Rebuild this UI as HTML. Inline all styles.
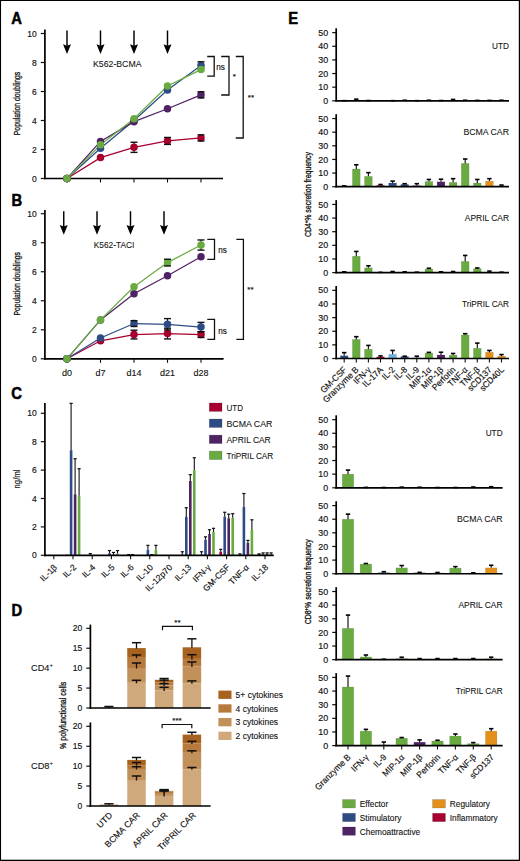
<!DOCTYPE html>
<html><head><meta charset="utf-8"><style>
html,body{margin:0;padding:0;background:#fff;width:520px;height:861px;overflow:hidden}
svg{display:block}
text{font-family:"Liberation Sans",sans-serif}
</style></head><body>
<svg width="520" height="861" viewBox="0 0 520 861" font-family="Liberation Sans">
<rect x="0" y="0" width="520" height="861" fill="#fff"/>
<rect x="0" y="0" width="1.05" height="861" fill="#000"/><rect x="0" y="0" width="520" height="1.0" fill="#000"/><rect x="518.8" y="0" width="1.2" height="861" fill="#000"/><rect x="0" y="859.7" width="520" height="1.3" fill="#000"/>
<text transform="translate(11.20,24.30) scale(0.95,1)" font-size="15.6" font-weight="bold" fill="#000" stroke="#000" stroke-width="0.5">A</text>
<text transform="translate(11.50,205.60) scale(0.95,1)" font-size="15.6" font-weight="bold" fill="#000" stroke="#000" stroke-width="0.5">B</text>
<text transform="translate(11.20,398.80) scale(0.95,1)" font-size="15.6" font-weight="bold" fill="#000" stroke="#000" stroke-width="0.5">C</text>
<text transform="translate(11.50,615.60) scale(0.95,1)" font-size="15.6" font-weight="bold" fill="#000" stroke="#000" stroke-width="0.5">D</text>
<text transform="translate(288.30,24.30) scale(0.95,1)" font-size="15.6" font-weight="bold" fill="#000" stroke="#000" stroke-width="0.5">E</text>
<line x1="44.90" y1="29.50" x2="44.90" y2="179.35" stroke="#000" stroke-width="1.7" />
<line x1="44.05" y1="178.50" x2="223.00" y2="178.50" stroke="#000" stroke-width="1.7" />
<line x1="40.80" y1="178.50" x2="44.90" y2="178.50" stroke="#111" stroke-width="1.2" />
<text x="36.80" y="181.50" font-size="8.5" text-anchor="end" font-weight="normal" fill="#111" stroke="#111" stroke-width="0.16" >0</text>
<line x1="40.80" y1="149.50" x2="44.90" y2="149.50" stroke="#111" stroke-width="1.2" />
<text x="36.80" y="152.50" font-size="8.5" text-anchor="end" font-weight="normal" fill="#111" stroke="#111" stroke-width="0.16" >2</text>
<line x1="40.80" y1="120.50" x2="44.90" y2="120.50" stroke="#111" stroke-width="1.2" />
<text x="36.80" y="123.50" font-size="8.5" text-anchor="end" font-weight="normal" fill="#111" stroke="#111" stroke-width="0.16" >4</text>
<line x1="40.80" y1="91.50" x2="44.90" y2="91.50" stroke="#111" stroke-width="1.2" />
<text x="36.80" y="94.50" font-size="8.5" text-anchor="end" font-weight="normal" fill="#111" stroke="#111" stroke-width="0.16" >6</text>
<line x1="40.80" y1="62.50" x2="44.90" y2="62.50" stroke="#111" stroke-width="1.2" />
<text x="36.80" y="65.50" font-size="8.5" text-anchor="end" font-weight="normal" fill="#111" stroke="#111" stroke-width="0.16" >8</text>
<line x1="40.80" y1="33.50" x2="44.90" y2="33.50" stroke="#111" stroke-width="1.2" />
<text x="36.80" y="36.50" font-size="8.5" text-anchor="end" font-weight="normal" fill="#111" stroke="#111" stroke-width="0.16" >10</text>
<line x1="67.00" y1="178.50" x2="67.00" y2="182.50" stroke="#111" stroke-width="1.1" />
<line x1="100.50" y1="178.50" x2="100.50" y2="182.50" stroke="#111" stroke-width="1.1" />
<line x1="134.00" y1="178.50" x2="134.00" y2="182.50" stroke="#111" stroke-width="1.1" />
<line x1="167.50" y1="178.50" x2="167.50" y2="182.50" stroke="#111" stroke-width="1.1" />
<line x1="201.00" y1="178.50" x2="201.00" y2="182.50" stroke="#111" stroke-width="1.1" />
<text transform="translate(16.60,103.50) rotate(-90) scale(0.69,1)" x="0" y="3.41" font-size="9.9" text-anchor="middle" fill="#111" stroke="#111" stroke-width="0.3">Population doublings</text>
<line x1="67.00" y1="30.50" x2="67.00" y2="47.00" stroke="#000" stroke-width="1.45" />
<polygon points="63.00,44.20 67.00,45.70 71.00,44.20 67.00,53.90" fill="#000"/>
<line x1="100.50" y1="30.50" x2="100.50" y2="47.00" stroke="#000" stroke-width="1.45" />
<polygon points="96.50,44.20 100.50,45.70 104.50,44.20 100.50,53.90" fill="#000"/>
<line x1="134.00" y1="30.50" x2="134.00" y2="47.00" stroke="#000" stroke-width="1.45" />
<polygon points="130.00,44.20 134.00,45.70 138.00,44.20 134.00,53.90" fill="#000"/>
<line x1="167.50" y1="30.50" x2="167.50" y2="47.00" stroke="#000" stroke-width="1.45" />
<polygon points="163.50,44.20 167.50,45.70 171.50,44.20 167.50,53.90" fill="#000"/>
<text x="93.00" y="67.20" font-size="8.85" text-anchor="start" font-weight="normal" fill="#111" stroke="#111" stroke-width="0.08" textLength="48.5" lengthAdjust="spacingAndGlyphs">K562-BCMA</text>
<polyline points="67.00,178.50 100.50,157.62 134.00,147.32 167.50,140.94 201.00,137.90" fill="none" stroke="#a8002e" stroke-width="1.25"/>
<polyline points="67.00,178.50 100.50,148.34 134.00,120.50 167.50,90.05 201.00,65.40" fill="none" stroke="#2d4b85" stroke-width="1.25"/>
<polyline points="67.00,178.50 100.50,141.38 134.00,121.66 167.50,108.76 201.00,94.84" fill="none" stroke="#4f2264" stroke-width="1.25"/>
<polyline points="67.00,178.50 100.50,144.86 134.00,118.76 167.50,85.99 201.00,69.61" fill="none" stroke="#6aab41" stroke-width="1.25"/>
<circle cx="67.00" cy="178.50" r="3.75" fill="#a8002e"/>
<circle cx="100.50" cy="157.62" r="3.75" fill="#a8002e"/>
<line x1="134.00" y1="142.25" x2="134.00" y2="152.40" stroke="#111" stroke-width="1.1" />
<circle cx="134.00" cy="147.32" r="3.75" fill="#a8002e"/>
<line x1="130.50" y1="142.25" x2="137.50" y2="142.25" stroke="#111" stroke-width="1.4" />
<line x1="130.50" y1="152.40" x2="137.50" y2="152.40" stroke="#111" stroke-width="1.4" />
<line x1="167.50" y1="137.47" x2="167.50" y2="144.42" stroke="#111" stroke-width="1.1" />
<circle cx="167.50" cy="140.94" r="3.75" fill="#a8002e"/>
<line x1="164.00" y1="137.47" x2="171.00" y2="137.47" stroke="#111" stroke-width="1.4" />
<line x1="164.00" y1="144.42" x2="171.00" y2="144.42" stroke="#111" stroke-width="1.4" />
<line x1="201.00" y1="134.86" x2="201.00" y2="140.94" stroke="#111" stroke-width="1.1" />
<circle cx="201.00" cy="137.90" r="3.75" fill="#a8002e"/>
<line x1="197.50" y1="134.86" x2="204.50" y2="134.86" stroke="#111" stroke-width="1.4" />
<line x1="197.50" y1="140.94" x2="204.50" y2="140.94" stroke="#111" stroke-width="1.4" />
<circle cx="67.00" cy="178.50" r="3.75" fill="#2d4b85"/>
<circle cx="100.50" cy="148.34" r="3.75" fill="#2d4b85"/>
<circle cx="134.00" cy="120.50" r="3.75" fill="#2d4b85"/>
<circle cx="167.50" cy="90.05" r="3.75" fill="#2d4b85"/>
<line x1="201.00" y1="61.78" x2="201.00" y2="69.03" stroke="#111" stroke-width="1.1" />
<circle cx="201.00" cy="65.40" r="3.75" fill="#2d4b85"/>
<line x1="197.50" y1="61.78" x2="204.50" y2="61.78" stroke="#111" stroke-width="1.4" />
<line x1="197.50" y1="69.03" x2="204.50" y2="69.03" stroke="#111" stroke-width="1.4" />
<circle cx="67.00" cy="178.50" r="3.75" fill="#4f2264"/>
<circle cx="100.50" cy="141.38" r="3.75" fill="#4f2264"/>
<circle cx="134.00" cy="121.66" r="3.75" fill="#4f2264"/>
<circle cx="167.50" cy="108.76" r="3.75" fill="#4f2264"/>
<line x1="201.00" y1="91.79" x2="201.00" y2="97.88" stroke="#111" stroke-width="1.1" />
<circle cx="201.00" cy="94.84" r="3.75" fill="#4f2264"/>
<line x1="197.50" y1="91.79" x2="204.50" y2="91.79" stroke="#111" stroke-width="1.4" />
<line x1="197.50" y1="97.88" x2="204.50" y2="97.88" stroke="#111" stroke-width="1.4" />
<circle cx="67.00" cy="178.50" r="3.75" fill="#6aab41"/>
<circle cx="100.50" cy="144.86" r="3.75" fill="#6aab41"/>
<circle cx="134.00" cy="118.76" r="3.75" fill="#6aab41"/>
<circle cx="167.50" cy="85.99" r="3.75" fill="#6aab41"/>
<circle cx="201.00" cy="69.61" r="3.75" fill="#6aab41"/>
<polyline points="207.20,56.50 214.20,56.50 214.20,76.20 207.20,76.20" fill="none" stroke="#111" stroke-width="1.3"/>
<text x="216.30" y="69.80" font-size="8.2" text-anchor="start" font-weight="normal" fill="#111" stroke="#111" stroke-width="0.16" >ns</text>
<polyline points="221.20,56.50 229.00,56.50 229.00,95.00 221.20,95.00" fill="none" stroke="#111" stroke-width="1.3"/>
<text x="232.80" y="78.50" font-size="8.0" text-anchor="start" font-weight="normal" fill="#111" stroke="#111" stroke-width="0.16" >*</text>
<polyline points="235.80,56.50 243.20,56.50 243.20,138.00 235.80,138.00" fill="none" stroke="#111" stroke-width="1.3"/>
<text x="247.80" y="99.50" font-size="8.0" text-anchor="start" font-weight="normal" fill="#111" stroke="#111" stroke-width="0.16" >**</text>
<line x1="44.90" y1="210.00" x2="44.90" y2="359.65" stroke="#000" stroke-width="1.7" />
<line x1="44.05" y1="358.80" x2="223.60" y2="358.80" stroke="#000" stroke-width="1.7" />
<line x1="40.80" y1="358.80" x2="44.90" y2="358.80" stroke="#111" stroke-width="1.2" />
<text x="36.80" y="361.80" font-size="8.5" text-anchor="end" font-weight="normal" fill="#111" stroke="#111" stroke-width="0.16" >0</text>
<line x1="40.80" y1="329.78" x2="44.90" y2="329.78" stroke="#111" stroke-width="1.2" />
<text x="36.80" y="332.78" font-size="8.5" text-anchor="end" font-weight="normal" fill="#111" stroke="#111" stroke-width="0.16" >2</text>
<line x1="40.80" y1="300.76" x2="44.90" y2="300.76" stroke="#111" stroke-width="1.2" />
<text x="36.80" y="303.76" font-size="8.5" text-anchor="end" font-weight="normal" fill="#111" stroke="#111" stroke-width="0.16" >4</text>
<line x1="40.80" y1="271.74" x2="44.90" y2="271.74" stroke="#111" stroke-width="1.2" />
<text x="36.80" y="274.74" font-size="8.5" text-anchor="end" font-weight="normal" fill="#111" stroke="#111" stroke-width="0.16" >6</text>
<line x1="40.80" y1="242.72" x2="44.90" y2="242.72" stroke="#111" stroke-width="1.2" />
<text x="36.80" y="245.72" font-size="8.5" text-anchor="end" font-weight="normal" fill="#111" stroke="#111" stroke-width="0.16" >8</text>
<line x1="40.80" y1="213.70" x2="44.90" y2="213.70" stroke="#111" stroke-width="1.2" />
<text x="36.80" y="216.70" font-size="8.5" text-anchor="end" font-weight="normal" fill="#111" stroke="#111" stroke-width="0.16" >10</text>
<line x1="67.00" y1="358.80" x2="67.00" y2="362.80" stroke="#111" stroke-width="1.1" />
<line x1="100.50" y1="358.80" x2="100.50" y2="362.80" stroke="#111" stroke-width="1.1" />
<line x1="134.00" y1="358.80" x2="134.00" y2="362.80" stroke="#111" stroke-width="1.1" />
<line x1="167.50" y1="358.80" x2="167.50" y2="362.80" stroke="#111" stroke-width="1.1" />
<line x1="201.00" y1="358.80" x2="201.00" y2="362.80" stroke="#111" stroke-width="1.1" />
<text x="67.00" y="375.60" font-size="9.0" text-anchor="middle" font-weight="normal" fill="#111" stroke="#111" stroke-width="0.12" >d0</text>
<text x="100.50" y="375.60" font-size="9.0" text-anchor="middle" font-weight="normal" fill="#111" stroke="#111" stroke-width="0.12" >d7</text>
<text x="134.00" y="375.60" font-size="9.0" text-anchor="middle" font-weight="normal" fill="#111" stroke="#111" stroke-width="0.12" >d14</text>
<text x="167.50" y="375.60" font-size="9.0" text-anchor="middle" font-weight="normal" fill="#111" stroke="#111" stroke-width="0.12" >d21</text>
<text x="201.00" y="375.60" font-size="9.0" text-anchor="middle" font-weight="normal" fill="#111" stroke="#111" stroke-width="0.12" >d28</text>
<text transform="translate(16.60,283.80) rotate(-90) scale(0.69,1)" x="0" y="3.41" font-size="9.9" text-anchor="middle" fill="#111" stroke="#111" stroke-width="0.3">Population doublings</text>
<line x1="63.75" y1="211.20" x2="63.75" y2="227.80" stroke="#000" stroke-width="1.45" />
<polygon points="59.75,225.00 63.75,226.50 67.75,225.00 63.75,234.70" fill="#000"/>
<line x1="97.00" y1="211.20" x2="97.00" y2="227.80" stroke="#000" stroke-width="1.45" />
<polygon points="93.00,225.00 97.00,226.50 101.00,225.00 97.00,234.70" fill="#000"/>
<line x1="130.50" y1="211.20" x2="130.50" y2="227.80" stroke="#000" stroke-width="1.45" />
<polygon points="126.50,225.00 130.50,226.50 134.50,225.00 130.50,234.70" fill="#000"/>
<line x1="164.00" y1="211.20" x2="164.00" y2="227.80" stroke="#000" stroke-width="1.45" />
<polygon points="160.00,225.00 164.00,226.50 168.00,225.00 164.00,234.70" fill="#000"/>
<text x="93.70" y="248.00" font-size="8.85" text-anchor="start" font-weight="normal" fill="#111" stroke="#111" stroke-width="0.08" textLength="40.6" lengthAdjust="spacingAndGlyphs">K562-TACI</text>
<polyline points="67.00,358.80 100.50,340.81 134.00,334.57 167.50,333.55 201.00,334.57" fill="none" stroke="#a8002e" stroke-width="1.25"/>
<polyline points="67.00,358.80 100.50,338.05 134.00,323.54 167.50,324.27 201.00,327.02" fill="none" stroke="#2d4b85" stroke-width="1.25"/>
<polyline points="67.00,358.80 100.50,319.91 134.00,293.80 167.50,275.80 201.00,256.79" fill="none" stroke="#4f2264" stroke-width="1.25"/>
<polyline points="67.00,358.80 100.50,319.91 134.00,286.83 167.50,262.60 201.00,245.04" fill="none" stroke="#6aab41" stroke-width="1.25"/>
<circle cx="67.00" cy="358.80" r="3.75" fill="#a8002e"/>
<circle cx="100.50" cy="340.81" r="3.75" fill="#a8002e"/>
<line x1="134.00" y1="330.22" x2="134.00" y2="338.92" stroke="#111" stroke-width="1.1" />
<circle cx="134.00" cy="334.57" r="3.75" fill="#a8002e"/>
<line x1="130.50" y1="330.22" x2="137.50" y2="330.22" stroke="#111" stroke-width="1.4" />
<line x1="130.50" y1="338.92" x2="137.50" y2="338.92" stroke="#111" stroke-width="1.4" />
<line x1="167.50" y1="328.18" x2="167.50" y2="338.92" stroke="#111" stroke-width="1.1" />
<circle cx="167.50" cy="333.55" r="3.75" fill="#a8002e"/>
<line x1="164.00" y1="328.18" x2="171.00" y2="328.18" stroke="#111" stroke-width="1.4" />
<line x1="164.00" y1="338.92" x2="171.00" y2="338.92" stroke="#111" stroke-width="1.4" />
<line x1="201.00" y1="331.67" x2="201.00" y2="337.47" stroke="#111" stroke-width="1.1" />
<circle cx="201.00" cy="334.57" r="3.75" fill="#a8002e"/>
<line x1="197.50" y1="331.67" x2="204.50" y2="331.67" stroke="#111" stroke-width="1.4" />
<line x1="197.50" y1="337.47" x2="204.50" y2="337.47" stroke="#111" stroke-width="1.4" />
<circle cx="67.00" cy="358.80" r="3.75" fill="#2d4b85"/>
<circle cx="100.50" cy="338.05" r="3.75" fill="#2d4b85"/>
<line x1="134.00" y1="320.64" x2="134.00" y2="326.44" stroke="#111" stroke-width="1.1" />
<circle cx="134.00" cy="323.54" r="3.75" fill="#2d4b85"/>
<line x1="130.50" y1="320.64" x2="137.50" y2="320.64" stroke="#111" stroke-width="1.4" />
<line x1="130.50" y1="326.44" x2="137.50" y2="326.44" stroke="#111" stroke-width="1.4" />
<line x1="167.50" y1="318.61" x2="167.50" y2="329.93" stroke="#111" stroke-width="1.1" />
<circle cx="167.50" cy="324.27" r="3.75" fill="#2d4b85"/>
<line x1="164.00" y1="318.61" x2="171.00" y2="318.61" stroke="#111" stroke-width="1.4" />
<line x1="164.00" y1="329.93" x2="171.00" y2="329.93" stroke="#111" stroke-width="1.4" />
<line x1="201.00" y1="322.38" x2="201.00" y2="331.67" stroke="#111" stroke-width="1.1" />
<circle cx="201.00" cy="327.02" r="3.75" fill="#2d4b85"/>
<line x1="197.50" y1="322.38" x2="204.50" y2="322.38" stroke="#111" stroke-width="1.4" />
<line x1="197.50" y1="331.67" x2="204.50" y2="331.67" stroke="#111" stroke-width="1.4" />
<circle cx="67.00" cy="358.80" r="3.75" fill="#4f2264"/>
<circle cx="100.50" cy="319.91" r="3.75" fill="#4f2264"/>
<circle cx="134.00" cy="293.80" r="3.75" fill="#4f2264"/>
<circle cx="167.50" cy="275.80" r="3.75" fill="#4f2264"/>
<circle cx="201.00" cy="256.79" r="3.75" fill="#4f2264"/>
<circle cx="67.00" cy="358.80" r="3.75" fill="#6aab41"/>
<circle cx="100.50" cy="319.91" r="3.75" fill="#6aab41"/>
<circle cx="134.00" cy="286.83" r="3.75" fill="#6aab41"/>
<line x1="167.50" y1="259.26" x2="167.50" y2="265.94" stroke="#111" stroke-width="1.1" />
<circle cx="167.50" cy="262.60" r="3.75" fill="#6aab41"/>
<line x1="164.00" y1="259.26" x2="171.00" y2="259.26" stroke="#111" stroke-width="1.4" />
<line x1="164.00" y1="265.94" x2="171.00" y2="265.94" stroke="#111" stroke-width="1.4" />
<line x1="201.00" y1="239.96" x2="201.00" y2="250.12" stroke="#111" stroke-width="1.1" />
<circle cx="201.00" cy="245.04" r="3.75" fill="#6aab41"/>
<line x1="197.50" y1="239.96" x2="204.50" y2="239.96" stroke="#111" stroke-width="1.4" />
<line x1="197.50" y1="250.12" x2="204.50" y2="250.12" stroke="#111" stroke-width="1.4" />
<polyline points="207.30,239.40 214.50,239.40 214.50,259.30 207.30,259.30" fill="none" stroke="#111" stroke-width="1.3"/>
<text x="218.30" y="253.30" font-size="8.2" text-anchor="start" font-weight="normal" fill="#111" stroke="#111" stroke-width="0.16" >ns</text>
<polyline points="207.30,319.40 214.50,319.40 214.50,339.30 207.30,339.30" fill="none" stroke="#111" stroke-width="1.3"/>
<text x="218.30" y="333.80" font-size="8.2" text-anchor="start" font-weight="normal" fill="#111" stroke="#111" stroke-width="0.16" >ns</text>
<polyline points="236.40,239.40 243.40,239.40 243.40,339.30 236.40,339.30" fill="none" stroke="#111" stroke-width="1.3"/>
<text x="247.30" y="291.50" font-size="8.0" text-anchor="start" font-weight="normal" fill="#111" stroke="#111" stroke-width="0.16" >**</text>
<line x1="40.80" y1="555.30" x2="44.90" y2="555.30" stroke="#111" stroke-width="1.2" />
<text x="36.80" y="558.30" font-size="8.5" text-anchor="end" font-weight="normal" fill="#111" stroke="#111" stroke-width="0.16" >0</text>
<line x1="40.80" y1="526.90" x2="44.90" y2="526.90" stroke="#111" stroke-width="1.2" />
<text x="36.80" y="529.90" font-size="8.5" text-anchor="end" font-weight="normal" fill="#111" stroke="#111" stroke-width="0.16" >2</text>
<line x1="40.80" y1="498.50" x2="44.90" y2="498.50" stroke="#111" stroke-width="1.2" />
<text x="36.80" y="501.50" font-size="8.5" text-anchor="end" font-weight="normal" fill="#111" stroke="#111" stroke-width="0.16" >4</text>
<line x1="40.80" y1="470.10" x2="44.90" y2="470.10" stroke="#111" stroke-width="1.2" />
<text x="36.80" y="473.10" font-size="8.5" text-anchor="end" font-weight="normal" fill="#111" stroke="#111" stroke-width="0.16" >6</text>
<line x1="40.80" y1="441.70" x2="44.90" y2="441.70" stroke="#111" stroke-width="1.2" />
<text x="36.80" y="444.70" font-size="8.5" text-anchor="end" font-weight="normal" fill="#111" stroke="#111" stroke-width="0.16" >8</text>
<line x1="40.80" y1="413.30" x2="44.90" y2="413.30" stroke="#111" stroke-width="1.2" />
<text x="36.80" y="416.30" font-size="8.5" text-anchor="end" font-weight="normal" fill="#111" stroke="#111" stroke-width="0.16" >10</text>
<text transform="translate(17.10,479.00) rotate(-90) scale(0.92,1)" x="0" y="2.89" font-size="8.4" text-anchor="middle" fill="#111" stroke="#111" stroke-width="0.16">ng/ml</text>
<line x1="53.80" y1="555.30" x2="53.80" y2="559.30" stroke="#111" stroke-width="1.1" />
<text transform="translate(57.60,567.90) rotate(-45) scale(1.0,1)" x="0" y="0" font-size="8.6" text-anchor="end" fill="#111" stroke="#111" stroke-width="0.16">IL-1β</text>
<rect x="46.60" y="555.02" width="2.60" height="0.28" fill="#a8002e"/>
<rect x="50.60" y="555.02" width="2.60" height="0.28" fill="#2d4b85"/>
<line x1="73.00" y1="555.30" x2="73.00" y2="559.30" stroke="#111" stroke-width="1.1" />
<text transform="translate(76.80,567.90) rotate(-45) scale(1.0,1)" x="0" y="0" font-size="8.6" text-anchor="end" fill="#111" stroke="#111" stroke-width="0.16">IL-2</text>
<rect x="65.80" y="554.59" width="2.60" height="0.71" fill="#a8002e"/>
<rect x="69.80" y="450.22" width="2.60" height="105.08" fill="#2d4b85"/>
<line x1="71.10" y1="403.36" x2="71.10" y2="450.22" stroke="#111" stroke-width="1.1" />
<line x1="69.50" y1="403.36" x2="72.70" y2="403.36" stroke="#111" stroke-width="1.2" />
<rect x="73.80" y="494.24" width="2.60" height="61.06" fill="#4f2264"/>
<line x1="75.10" y1="458.74" x2="75.10" y2="494.24" stroke="#111" stroke-width="1.1" />
<line x1="73.50" y1="458.74" x2="76.70" y2="458.74" stroke="#111" stroke-width="1.2" />
<rect x="77.80" y="495.66" width="2.60" height="59.64" fill="#6aab41"/>
<line x1="79.10" y1="468.68" x2="79.10" y2="495.66" stroke="#111" stroke-width="1.1" />
<line x1="77.50" y1="468.68" x2="80.70" y2="468.68" stroke="#111" stroke-width="1.2" />
<line x1="92.20" y1="555.30" x2="92.20" y2="559.30" stroke="#111" stroke-width="1.1" />
<text transform="translate(96.00,567.90) rotate(-45) scale(1.0,1)" x="0" y="0" font-size="8.6" text-anchor="end" fill="#111" stroke="#111" stroke-width="0.16">IL-4</text>
<rect x="89.00" y="554.59" width="2.60" height="0.71" fill="#2d4b85"/>
<line x1="90.30" y1="553.60" x2="90.30" y2="554.59" stroke="#111" stroke-width="1.1" />
<line x1="88.70" y1="553.60" x2="91.90" y2="553.60" stroke="#111" stroke-width="1.2" />
<rect x="93.00" y="555.02" width="2.60" height="0.28" fill="#4f2264"/>
<line x1="111.40" y1="555.30" x2="111.40" y2="559.30" stroke="#111" stroke-width="1.1" />
<text transform="translate(115.20,567.90) rotate(-45) scale(1.0,1)" x="0" y="0" font-size="8.6" text-anchor="end" fill="#111" stroke="#111" stroke-width="0.16">IL-5</text>
<rect x="108.20" y="553.17" width="2.60" height="2.13" fill="#2d4b85"/>
<line x1="109.50" y1="550.61" x2="109.50" y2="553.17" stroke="#111" stroke-width="1.1" />
<line x1="107.90" y1="550.61" x2="111.10" y2="550.61" stroke="#111" stroke-width="1.2" />
<rect x="112.20" y="554.59" width="2.60" height="0.71" fill="#4f2264"/>
<line x1="113.50" y1="552.46" x2="113.50" y2="554.59" stroke="#111" stroke-width="1.1" />
<line x1="111.90" y1="552.46" x2="115.10" y2="552.46" stroke="#111" stroke-width="1.2" />
<rect x="116.20" y="553.60" width="2.60" height="1.70" fill="#6aab41"/>
<line x1="117.50" y1="550.61" x2="117.50" y2="553.60" stroke="#111" stroke-width="1.1" />
<line x1="115.90" y1="550.61" x2="119.10" y2="550.61" stroke="#111" stroke-width="1.2" />
<line x1="130.60" y1="555.30" x2="130.60" y2="559.30" stroke="#111" stroke-width="1.1" />
<text transform="translate(134.40,567.90) rotate(-45) scale(1.0,1)" x="0" y="0" font-size="8.6" text-anchor="end" fill="#111" stroke="#111" stroke-width="0.16">IL-6</text>
<rect x="123.40" y="555.02" width="2.60" height="0.28" fill="#a8002e"/>
<rect x="127.40" y="555.02" width="2.60" height="0.28" fill="#2d4b85"/>
<line x1="128.70" y1="554.59" x2="128.70" y2="555.02" stroke="#111" stroke-width="1.1" />
<line x1="127.10" y1="554.59" x2="130.30" y2="554.59" stroke="#111" stroke-width="1.2" />
<rect x="131.40" y="555.02" width="2.60" height="0.28" fill="#4f2264"/>
<line x1="132.70" y1="554.59" x2="132.70" y2="555.02" stroke="#111" stroke-width="1.1" />
<line x1="131.10" y1="554.59" x2="134.30" y2="554.59" stroke="#111" stroke-width="1.2" />
<rect x="135.40" y="555.02" width="2.60" height="0.28" fill="#6aab41"/>
<line x1="149.80" y1="555.30" x2="149.80" y2="559.30" stroke="#111" stroke-width="1.1" />
<text transform="translate(153.60,567.90) rotate(-45) scale(1.0,1)" x="0" y="0" font-size="8.6" text-anchor="end" fill="#111" stroke="#111" stroke-width="0.16">IL-10</text>
<rect x="146.60" y="549.62" width="2.60" height="5.68" fill="#2d4b85"/>
<line x1="147.90" y1="545.36" x2="147.90" y2="549.62" stroke="#111" stroke-width="1.1" />
<line x1="146.30" y1="545.36" x2="149.50" y2="545.36" stroke="#111" stroke-width="1.2" />
<rect x="150.60" y="554.59" width="2.60" height="0.71" fill="#4f2264"/>
<line x1="151.90" y1="554.59" x2="151.90" y2="554.59" stroke="#111" stroke-width="1.1" />
<line x1="150.30" y1="554.59" x2="153.50" y2="554.59" stroke="#111" stroke-width="1.2" />
<rect x="154.60" y="549.62" width="2.60" height="5.68" fill="#6aab41"/>
<line x1="155.90" y1="545.36" x2="155.90" y2="549.62" stroke="#111" stroke-width="1.1" />
<line x1="154.30" y1="545.36" x2="157.50" y2="545.36" stroke="#111" stroke-width="1.2" />
<line x1="169.00" y1="555.30" x2="169.00" y2="559.30" stroke="#111" stroke-width="1.1" />
<text transform="translate(172.80,567.90) rotate(-45) scale(1.0,1)" x="0" y="0" font-size="8.6" text-anchor="end" fill="#111" stroke="#111" stroke-width="0.16">IL-12p70</text>
<line x1="188.20" y1="555.30" x2="188.20" y2="559.30" stroke="#111" stroke-width="1.1" />
<text transform="translate(192.00,567.90) rotate(-45) scale(1.0,1)" x="0" y="0" font-size="8.6" text-anchor="end" fill="#111" stroke="#111" stroke-width="0.16">IL-13</text>
<rect x="181.00" y="554.59" width="2.60" height="0.71" fill="#a8002e"/>
<line x1="182.30" y1="551.75" x2="182.30" y2="554.59" stroke="#111" stroke-width="1.1" />
<line x1="180.70" y1="551.75" x2="183.90" y2="551.75" stroke="#111" stroke-width="1.2" />
<rect x="185.00" y="516.96" width="2.60" height="38.34" fill="#2d4b85"/>
<line x1="186.30" y1="507.73" x2="186.30" y2="516.96" stroke="#111" stroke-width="1.1" />
<line x1="184.70" y1="507.73" x2="187.90" y2="507.73" stroke="#111" stroke-width="1.2" />
<rect x="189.00" y="481.03" width="2.60" height="74.27" fill="#4f2264"/>
<line x1="190.30" y1="474.64" x2="190.30" y2="481.03" stroke="#111" stroke-width="1.1" />
<line x1="188.70" y1="474.64" x2="191.90" y2="474.64" stroke="#111" stroke-width="1.2" />
<rect x="193.00" y="470.10" width="2.60" height="85.20" fill="#6aab41"/>
<line x1="194.30" y1="457.75" x2="194.30" y2="470.10" stroke="#111" stroke-width="1.1" />
<line x1="192.70" y1="457.75" x2="195.90" y2="457.75" stroke="#111" stroke-width="1.2" />
<line x1="207.40" y1="555.30" x2="207.40" y2="559.30" stroke="#111" stroke-width="1.1" />
<text transform="translate(211.20,567.90) rotate(-45) scale(1.0,1)" x="0" y="0" font-size="8.6" text-anchor="end" fill="#111" stroke="#111" stroke-width="0.16">IFN-γ</text>
<rect x="200.20" y="554.59" width="2.60" height="0.71" fill="#a8002e"/>
<line x1="201.50" y1="551.75" x2="201.50" y2="554.59" stroke="#111" stroke-width="1.1" />
<line x1="199.90" y1="551.75" x2="203.10" y2="551.75" stroke="#111" stroke-width="1.2" />
<rect x="204.20" y="539.68" width="2.60" height="15.62" fill="#2d4b85"/>
<line x1="205.50" y1="536.84" x2="205.50" y2="539.68" stroke="#111" stroke-width="1.1" />
<line x1="203.90" y1="536.84" x2="207.10" y2="536.84" stroke="#111" stroke-width="1.2" />
<rect x="208.20" y="534.00" width="2.60" height="21.30" fill="#4f2264"/>
<line x1="209.50" y1="529.74" x2="209.50" y2="534.00" stroke="#111" stroke-width="1.1" />
<line x1="207.90" y1="529.74" x2="211.10" y2="529.74" stroke="#111" stroke-width="1.2" />
<rect x="212.20" y="531.87" width="2.60" height="23.43" fill="#6aab41"/>
<line x1="213.50" y1="528.32" x2="213.50" y2="531.87" stroke="#111" stroke-width="1.1" />
<line x1="211.90" y1="528.32" x2="215.10" y2="528.32" stroke="#111" stroke-width="1.2" />
<line x1="226.60" y1="555.30" x2="226.60" y2="559.30" stroke="#111" stroke-width="1.1" />
<text transform="translate(230.40,567.90) rotate(-45) scale(1.0,1)" x="0" y="0" font-size="8.6" text-anchor="end" fill="#111" stroke="#111" stroke-width="0.16">GM-CSF</text>
<rect x="219.40" y="551.75" width="2.60" height="3.55" fill="#a8002e"/>
<line x1="220.70" y1="549.34" x2="220.70" y2="551.75" stroke="#111" stroke-width="1.1" />
<line x1="219.10" y1="549.34" x2="222.30" y2="549.34" stroke="#111" stroke-width="1.2" />
<rect x="223.40" y="516.53" width="2.60" height="38.77" fill="#2d4b85"/>
<line x1="224.70" y1="512.27" x2="224.70" y2="516.53" stroke="#111" stroke-width="1.1" />
<line x1="223.10" y1="512.27" x2="226.30" y2="512.27" stroke="#111" stroke-width="1.2" />
<rect x="227.40" y="518.38" width="2.60" height="36.92" fill="#4f2264"/>
<line x1="228.70" y1="514.12" x2="228.70" y2="518.38" stroke="#111" stroke-width="1.1" />
<line x1="227.10" y1="514.12" x2="230.30" y2="514.12" stroke="#111" stroke-width="1.2" />
<rect x="231.40" y="517.67" width="2.60" height="37.63" fill="#6aab41"/>
<line x1="232.70" y1="513.69" x2="232.70" y2="517.67" stroke="#111" stroke-width="1.1" />
<line x1="231.10" y1="513.69" x2="234.30" y2="513.69" stroke="#111" stroke-width="1.2" />
<line x1="245.80" y1="555.30" x2="245.80" y2="559.30" stroke="#111" stroke-width="1.1" />
<text transform="translate(249.60,567.90) rotate(-45) scale(1.0,1)" x="0" y="0" font-size="8.6" text-anchor="end" fill="#111" stroke="#111" stroke-width="0.16">TNF-α</text>
<rect x="238.60" y="554.59" width="2.60" height="0.71" fill="#a8002e"/>
<line x1="239.90" y1="553.88" x2="239.90" y2="554.59" stroke="#111" stroke-width="1.1" />
<line x1="238.30" y1="553.88" x2="241.50" y2="553.88" stroke="#111" stroke-width="1.2" />
<rect x="242.60" y="507.02" width="2.60" height="48.28" fill="#2d4b85"/>
<line x1="243.90" y1="493.53" x2="243.90" y2="507.02" stroke="#111" stroke-width="1.1" />
<line x1="242.30" y1="493.53" x2="245.50" y2="493.53" stroke="#111" stroke-width="1.2" />
<rect x="246.60" y="542.95" width="2.60" height="12.35" fill="#4f2264"/>
<line x1="247.90" y1="540.39" x2="247.90" y2="542.95" stroke="#111" stroke-width="1.1" />
<line x1="246.30" y1="540.39" x2="249.50" y2="540.39" stroke="#111" stroke-width="1.2" />
<rect x="250.60" y="529.74" width="2.60" height="25.56" fill="#6aab41"/>
<line x1="251.90" y1="519.80" x2="251.90" y2="529.74" stroke="#111" stroke-width="1.1" />
<line x1="250.30" y1="519.80" x2="253.50" y2="519.80" stroke="#111" stroke-width="1.2" />
<line x1="265.00" y1="555.30" x2="265.00" y2="559.30" stroke="#111" stroke-width="1.1" />
<text transform="translate(268.80,567.90) rotate(-45) scale(1.0,1)" x="0" y="0" font-size="8.6" text-anchor="end" fill="#111" stroke="#111" stroke-width="0.16">IL-18</text>
<rect x="257.80" y="553.88" width="2.60" height="1.42" fill="#a8002e"/>
<line x1="259.10" y1="553.88" x2="259.10" y2="553.88" stroke="#111" stroke-width="1.1" />
<line x1="257.50" y1="553.88" x2="260.70" y2="553.88" stroke="#111" stroke-width="1.2" />
<rect x="261.80" y="554.16" width="2.60" height="1.14" fill="#2d4b85"/>
<line x1="263.10" y1="552.89" x2="263.10" y2="554.16" stroke="#111" stroke-width="1.1" />
<line x1="261.50" y1="552.89" x2="264.70" y2="552.89" stroke="#111" stroke-width="1.2" />
<rect x="265.80" y="554.16" width="2.60" height="1.14" fill="#4f2264"/>
<line x1="267.10" y1="552.89" x2="267.10" y2="554.16" stroke="#111" stroke-width="1.1" />
<line x1="265.50" y1="552.89" x2="268.70" y2="552.89" stroke="#111" stroke-width="1.2" />
<rect x="269.80" y="554.16" width="2.60" height="1.14" fill="#6aab41"/>
<line x1="271.10" y1="552.89" x2="271.10" y2="554.16" stroke="#111" stroke-width="1.1" />
<line x1="269.50" y1="552.89" x2="272.70" y2="552.89" stroke="#111" stroke-width="1.2" />
<line x1="44.90" y1="403.00" x2="44.90" y2="556.15" stroke="#000" stroke-width="1.7" />
<line x1="44.05" y1="555.30" x2="273.80" y2="555.30" stroke="#000" stroke-width="1.7" />
<rect x="209.30" y="403.00" width="12.70" height="8.40" fill="#a8002e" stroke="#0003" stroke-width="0.8"/>
<text x="226.50" y="410.60" font-size="8.7" text-anchor="start" font-weight="normal" fill="#111" stroke="#111" stroke-width="0.08" textLength="16.6" lengthAdjust="spacingAndGlyphs">UTD</text>
<rect x="209.30" y="419.05" width="12.70" height="8.40" fill="#2d4b85" stroke="#0003" stroke-width="0.8"/>
<text x="226.50" y="426.65" font-size="8.7" text-anchor="start" font-weight="normal" fill="#111" stroke="#111" stroke-width="0.08" textLength="45.9" lengthAdjust="spacingAndGlyphs">BCMA CAR</text>
<rect x="209.30" y="435.10" width="12.70" height="8.40" fill="#4f2264" stroke="#0003" stroke-width="0.8"/>
<text x="226.50" y="442.70" font-size="8.7" text-anchor="start" font-weight="normal" fill="#111" stroke="#111" stroke-width="0.08" textLength="44.2" lengthAdjust="spacingAndGlyphs">APRIL CAR</text>
<rect x="209.30" y="451.15" width="12.70" height="8.40" fill="#6aab41" stroke="#0003" stroke-width="0.8"/>
<text x="226.50" y="458.75" font-size="8.7" text-anchor="start" font-weight="normal" fill="#111" stroke="#111" stroke-width="0.08" textLength="46.7" lengthAdjust="spacingAndGlyphs">TriPRIL CAR</text>
<line x1="86.30" y1="708.00" x2="90.40" y2="708.00" stroke="#111" stroke-width="1.2" />
<text x="82.30" y="711.00" font-size="8.5" text-anchor="end" font-weight="normal" fill="#111" stroke="#111" stroke-width="0.16" >0</text>
<line x1="86.30" y1="688.08" x2="90.40" y2="688.08" stroke="#111" stroke-width="1.2" />
<text x="82.30" y="691.08" font-size="8.5" text-anchor="end" font-weight="normal" fill="#111" stroke="#111" stroke-width="0.16" >5</text>
<line x1="86.30" y1="668.16" x2="90.40" y2="668.16" stroke="#111" stroke-width="1.2" />
<text x="82.30" y="671.16" font-size="8.5" text-anchor="end" font-weight="normal" fill="#111" stroke="#111" stroke-width="0.16" >10</text>
<line x1="86.30" y1="648.24" x2="90.40" y2="648.24" stroke="#111" stroke-width="1.2" />
<text x="82.30" y="651.24" font-size="8.5" text-anchor="end" font-weight="normal" fill="#111" stroke="#111" stroke-width="0.16" >15</text>
<line x1="86.30" y1="628.32" x2="90.40" y2="628.32" stroke="#111" stroke-width="1.2" />
<text x="82.30" y="631.32" font-size="8.5" text-anchor="end" font-weight="normal" fill="#111" stroke="#111" stroke-width="0.16" >20</text>
<text x="31.00" y="671.00" font-size="9.2" text-anchor="start" font-weight="normal" fill="#111" stroke="#111" stroke-width="0.1" >CD4<tspan font-size="6" dy="-3.8">+</tspan></text>
<rect x="99.65" y="707.50" width="18.50" height="0.50" fill="#cfa87b"/>
<line x1="108.90" y1="706.50" x2="108.90" y2="708.00" stroke="#111" stroke-width="1.3" />
<line x1="104.30" y1="706.50" x2="113.50" y2="706.50" stroke="#111" stroke-width="1.5" />
<rect x="127.25" y="648.10" width="18.50" height="9.70" fill="#a8621f"/>
<rect x="127.25" y="657.80" width="18.50" height="10.20" fill="#b77a3c"/>
<rect x="127.25" y="668.00" width="18.50" height="14.80" fill="#c29059"/>
<rect x="127.25" y="682.80" width="18.50" height="25.20" fill="#cfa87b"/>
<line x1="136.50" y1="642.70" x2="136.50" y2="648.60" stroke="#111" stroke-width="1.3" />
<line x1="131.90" y1="642.70" x2="141.10" y2="642.70" stroke="#111" stroke-width="1.5" />
<line x1="136.50" y1="655.00" x2="136.50" y2="658.30" stroke="#111" stroke-width="1.3" />
<line x1="131.90" y1="655.00" x2="141.10" y2="655.00" stroke="#111" stroke-width="1.5" />
<line x1="136.50" y1="663.00" x2="136.50" y2="668.50" stroke="#111" stroke-width="1.3" />
<line x1="131.90" y1="663.00" x2="141.10" y2="663.00" stroke="#111" stroke-width="1.5" />
<line x1="136.50" y1="680.30" x2="136.50" y2="683.30" stroke="#111" stroke-width="1.3" />
<line x1="131.90" y1="680.30" x2="141.10" y2="680.30" stroke="#111" stroke-width="1.5" />
<rect x="154.85" y="679.80" width="18.50" height="2.80" fill="#a8621f"/>
<rect x="154.85" y="682.60" width="18.50" height="2.90" fill="#b77a3c"/>
<rect x="154.85" y="685.50" width="18.50" height="5.00" fill="#c29059"/>
<rect x="154.85" y="690.50" width="18.50" height="17.50" fill="#cfa87b"/>
<line x1="164.10" y1="678.50" x2="164.10" y2="680.30" stroke="#111" stroke-width="1.3" />
<line x1="159.50" y1="678.50" x2="168.70" y2="678.50" stroke="#111" stroke-width="1.5" />
<line x1="164.10" y1="680.10" x2="164.10" y2="683.10" stroke="#111" stroke-width="1.3" />
<line x1="159.50" y1="680.10" x2="168.70" y2="680.10" stroke="#111" stroke-width="1.5" />
<line x1="164.10" y1="683.60" x2="164.10" y2="686.00" stroke="#111" stroke-width="1.3" />
<line x1="159.50" y1="683.60" x2="168.70" y2="683.60" stroke="#111" stroke-width="1.5" />
<line x1="164.10" y1="687.30" x2="164.10" y2="691.00" stroke="#111" stroke-width="1.3" />
<line x1="159.50" y1="687.30" x2="168.70" y2="687.30" stroke="#111" stroke-width="1.5" />
<rect x="182.65" y="647.30" width="18.50" height="11.60" fill="#a8621f"/>
<rect x="182.65" y="658.90" width="18.50" height="7.70" fill="#b77a3c"/>
<rect x="182.65" y="666.60" width="18.50" height="16.60" fill="#c29059"/>
<rect x="182.65" y="683.20" width="18.50" height="24.80" fill="#cfa87b"/>
<line x1="191.90" y1="638.80" x2="191.90" y2="647.80" stroke="#111" stroke-width="1.3" />
<line x1="187.30" y1="638.80" x2="196.50" y2="638.80" stroke="#111" stroke-width="1.5" />
<line x1="191.90" y1="654.70" x2="191.90" y2="659.40" stroke="#111" stroke-width="1.3" />
<line x1="187.30" y1="654.70" x2="196.50" y2="654.70" stroke="#111" stroke-width="1.5" />
<line x1="191.90" y1="662.00" x2="191.90" y2="667.10" stroke="#111" stroke-width="1.3" />
<line x1="187.30" y1="662.00" x2="196.50" y2="662.00" stroke="#111" stroke-width="1.5" />
<line x1="191.90" y1="680.90" x2="191.90" y2="683.70" stroke="#111" stroke-width="1.3" />
<line x1="187.30" y1="680.90" x2="196.50" y2="680.90" stroke="#111" stroke-width="1.5" />
<line x1="90.40" y1="624.60" x2="90.40" y2="708.85" stroke="#000" stroke-width="1.7" />
<line x1="89.55" y1="708.00" x2="210.60" y2="708.00" stroke="#000" stroke-width="1.7" />
<polyline points="162.50,630.30 162.50,626.40 192.40,626.40 192.40,630.30" fill="none" stroke="#111" stroke-width="1.2"/>
<text x="177.45" y="624.90" font-size="8.0" text-anchor="middle" font-weight="normal" fill="#111" stroke="#111" stroke-width="0.16" >**</text>
<line x1="86.30" y1="806.00" x2="90.40" y2="806.00" stroke="#111" stroke-width="1.2" />
<text x="82.30" y="809.00" font-size="8.5" text-anchor="end" font-weight="normal" fill="#111" stroke="#111" stroke-width="0.16" >0</text>
<line x1="86.30" y1="786.08" x2="90.40" y2="786.08" stroke="#111" stroke-width="1.2" />
<text x="82.30" y="789.08" font-size="8.5" text-anchor="end" font-weight="normal" fill="#111" stroke="#111" stroke-width="0.16" >5</text>
<line x1="86.30" y1="766.16" x2="90.40" y2="766.16" stroke="#111" stroke-width="1.2" />
<text x="82.30" y="769.16" font-size="8.5" text-anchor="end" font-weight="normal" fill="#111" stroke="#111" stroke-width="0.16" >10</text>
<line x1="86.30" y1="746.24" x2="90.40" y2="746.24" stroke="#111" stroke-width="1.2" />
<text x="82.30" y="749.24" font-size="8.5" text-anchor="end" font-weight="normal" fill="#111" stroke="#111" stroke-width="0.16" >15</text>
<line x1="86.30" y1="726.32" x2="90.40" y2="726.32" stroke="#111" stroke-width="1.2" />
<text x="82.30" y="729.32" font-size="8.5" text-anchor="end" font-weight="normal" fill="#111" stroke="#111" stroke-width="0.16" >20</text>
<text x="31.00" y="768.90" font-size="9.2" text-anchor="start" font-weight="normal" fill="#111" stroke="#111" stroke-width="0.1" >CD8<tspan font-size="6" dy="-3.8">+</tspan></text>
<rect x="99.65" y="804.60" width="18.50" height="0.20" fill="#a8621f"/>
<rect x="99.65" y="804.80" width="18.50" height="0.20" fill="#b77a3c"/>
<rect x="99.65" y="805.00" width="18.50" height="0.20" fill="#c29059"/>
<rect x="99.65" y="805.20" width="18.50" height="0.80" fill="#cfa87b"/>
<line x1="108.90" y1="803.80" x2="108.90" y2="805.10" stroke="#111" stroke-width="1.3" />
<line x1="104.30" y1="803.80" x2="113.50" y2="803.80" stroke="#111" stroke-width="1.5" />
<rect x="127.25" y="759.90" width="18.50" height="5.30" fill="#a8621f"/>
<rect x="127.25" y="765.20" width="18.50" height="3.80" fill="#b77a3c"/>
<rect x="127.25" y="769.00" width="18.50" height="11.00" fill="#c29059"/>
<rect x="127.25" y="780.00" width="18.50" height="26.00" fill="#cfa87b"/>
<line x1="136.50" y1="757.50" x2="136.50" y2="760.40" stroke="#111" stroke-width="1.3" />
<line x1="131.90" y1="757.50" x2="141.10" y2="757.50" stroke="#111" stroke-width="1.5" />
<line x1="136.50" y1="762.50" x2="136.50" y2="765.70" stroke="#111" stroke-width="1.3" />
<line x1="131.90" y1="762.50" x2="141.10" y2="762.50" stroke="#111" stroke-width="1.5" />
<line x1="136.50" y1="766.70" x2="136.50" y2="769.50" stroke="#111" stroke-width="1.3" />
<line x1="131.90" y1="766.70" x2="141.10" y2="766.70" stroke="#111" stroke-width="1.5" />
<line x1="136.50" y1="776.00" x2="136.50" y2="780.50" stroke="#111" stroke-width="1.3" />
<line x1="131.90" y1="776.00" x2="141.10" y2="776.00" stroke="#111" stroke-width="1.5" />
<rect x="154.85" y="790.90" width="18.50" height="0.40" fill="#a8621f"/>
<rect x="154.85" y="791.30" width="18.50" height="1.70" fill="#b77a3c"/>
<rect x="154.85" y="793.00" width="18.50" height="2.90" fill="#c29059"/>
<rect x="154.85" y="795.90" width="18.50" height="10.10" fill="#cfa87b"/>
<line x1="164.10" y1="789.60" x2="164.10" y2="791.40" stroke="#111" stroke-width="1.3" />
<line x1="159.50" y1="789.60" x2="168.70" y2="789.60" stroke="#111" stroke-width="1.5" />
<line x1="164.10" y1="790.40" x2="164.10" y2="791.80" stroke="#111" stroke-width="1.3" />
<line x1="159.50" y1="790.40" x2="168.70" y2="790.40" stroke="#111" stroke-width="1.5" />
<line x1="164.10" y1="791.00" x2="164.10" y2="793.50" stroke="#111" stroke-width="1.3" />
<line x1="159.50" y1="791.00" x2="168.70" y2="791.00" stroke="#111" stroke-width="1.5" />
<line x1="164.10" y1="790.60" x2="164.10" y2="796.40" stroke="#111" stroke-width="1.3" />
<line x1="159.50" y1="790.60" x2="168.70" y2="790.60" stroke="#111" stroke-width="1.5" />
<rect x="182.65" y="734.60" width="18.50" height="9.00" fill="#a8621f"/>
<rect x="182.65" y="743.60" width="18.50" height="9.20" fill="#b77a3c"/>
<rect x="182.65" y="752.80" width="18.50" height="16.40" fill="#c29059"/>
<rect x="182.65" y="769.20" width="18.50" height="36.80" fill="#cfa87b"/>
<line x1="191.90" y1="732.30" x2="191.90" y2="735.10" stroke="#111" stroke-width="1.3" />
<line x1="187.30" y1="732.30" x2="196.50" y2="732.30" stroke="#111" stroke-width="1.5" />
<line x1="191.90" y1="741.30" x2="191.90" y2="744.10" stroke="#111" stroke-width="1.3" />
<line x1="187.30" y1="741.30" x2="196.50" y2="741.30" stroke="#111" stroke-width="1.5" />
<line x1="191.90" y1="750.80" x2="191.90" y2="753.30" stroke="#111" stroke-width="1.3" />
<line x1="187.30" y1="750.80" x2="196.50" y2="750.80" stroke="#111" stroke-width="1.5" />
<line x1="191.90" y1="767.50" x2="191.90" y2="769.70" stroke="#111" stroke-width="1.3" />
<line x1="187.30" y1="767.50" x2="196.50" y2="767.50" stroke="#111" stroke-width="1.5" />
<line x1="90.40" y1="722.50" x2="90.40" y2="806.85" stroke="#000" stroke-width="1.7" />
<line x1="89.55" y1="806.00" x2="210.60" y2="806.00" stroke="#000" stroke-width="1.7" />
<polyline points="162.10,728.30 162.10,724.50 191.80,724.50 191.80,728.30" fill="none" stroke="#111" stroke-width="1.2"/>
<text x="176.95" y="723.00" font-size="8.0" text-anchor="middle" font-weight="normal" fill="#111" stroke="#111" stroke-width="0.16" >***</text>
<text transform="translate(62.5,715.3) rotate(-90) scale(0.8,1)" x="0" y="3.0" font-size="8.8" text-anchor="middle" fill="#111" stroke="#111" stroke-width="0.3">% polyfunctional cells</text>
<text transform="translate(112.90,815.80) rotate(-45) scale(1.0,1)" x="0" y="0" font-size="8.7" text-anchor="end" fill="#111" stroke="#111" stroke-width="0.16">UTD</text>
<text transform="translate(140.40,815.80) rotate(-45) scale(1.0,1)" x="0" y="0" font-size="8.7" text-anchor="end" fill="#111" stroke="#111" stroke-width="0.16">BCMA CAR</text>
<text transform="translate(168.10,815.80) rotate(-45) scale(1.0,1)" x="0" y="0" font-size="8.7" text-anchor="end" fill="#111" stroke="#111" stroke-width="0.16">APRIL CAR</text>
<text transform="translate(196.40,815.80) rotate(-45) scale(1.0,1)" x="0" y="0" font-size="8.7" text-anchor="end" fill="#111" stroke="#111" stroke-width="0.16">TriPRIL CAR</text>
<rect x="218.40" y="690.60" width="13.10" height="8.30" fill="#a8621f"/>
<text x="235.60" y="698.00" font-size="8.5" text-anchor="start" font-weight="normal" fill="#111" stroke="#111" stroke-width="0.1" >5+ cytokines</text>
<rect x="218.40" y="704.30" width="13.10" height="8.30" fill="#b77a3c"/>
<text x="235.60" y="711.70" font-size="8.5" text-anchor="start" font-weight="normal" fill="#111" stroke="#111" stroke-width="0.1" >4 cytokines</text>
<rect x="218.40" y="718.00" width="13.10" height="8.30" fill="#c29059"/>
<text x="235.60" y="725.40" font-size="8.5" text-anchor="start" font-weight="normal" fill="#111" stroke="#111" stroke-width="0.1" >3 cytokines</text>
<rect x="218.40" y="731.70" width="13.10" height="8.30" fill="#cfa87b"/>
<text x="235.60" y="739.10" font-size="8.5" text-anchor="start" font-weight="normal" fill="#111" stroke="#111" stroke-width="0.1" >2 cytokines</text>
<line x1="332.20" y1="100.80" x2="336.20" y2="100.80" stroke="#111" stroke-width="1.2" />
<text x="328.20" y="103.90" font-size="8.9" text-anchor="end" font-weight="normal" fill="#111" stroke="#111" stroke-width="0.16" >0</text>
<line x1="332.20" y1="87.17" x2="336.20" y2="87.17" stroke="#111" stroke-width="1.2" />
<text x="328.20" y="90.27" font-size="8.9" text-anchor="end" font-weight="normal" fill="#111" stroke="#111" stroke-width="0.16" >10</text>
<line x1="332.20" y1="73.54" x2="336.20" y2="73.54" stroke="#111" stroke-width="1.2" />
<text x="328.20" y="76.64" font-size="8.9" text-anchor="end" font-weight="normal" fill="#111" stroke="#111" stroke-width="0.16" >20</text>
<line x1="332.20" y1="59.91" x2="336.20" y2="59.91" stroke="#111" stroke-width="1.2" />
<text x="328.20" y="63.01" font-size="8.9" text-anchor="end" font-weight="normal" fill="#111" stroke="#111" stroke-width="0.16" >30</text>
<line x1="332.20" y1="46.28" x2="336.20" y2="46.28" stroke="#111" stroke-width="1.2" />
<text x="328.20" y="49.38" font-size="8.9" text-anchor="end" font-weight="normal" fill="#111" stroke="#111" stroke-width="0.16" >40</text>
<line x1="332.20" y1="32.65" x2="336.20" y2="32.65" stroke="#111" stroke-width="1.2" />
<text x="328.20" y="35.75" font-size="8.9" text-anchor="end" font-weight="normal" fill="#111" stroke="#111" stroke-width="0.16" >50</text>
<text x="509.00" y="49.20" font-size="8.6" text-anchor="end" font-weight="normal" fill="#111" stroke="#111" stroke-width="0.08" textLength="16.9" lengthAdjust="spacingAndGlyphs">UTD</text>
<line x1="344.20" y1="100.66" x2="344.20" y2="100.80" stroke="#111" stroke-width="1.15" />
<line x1="342.00" y1="100.66" x2="346.40" y2="100.66" stroke="#000" stroke-width="1.6" />
<rect x="352.40" y="100.25" width="7.80" height="0.55" fill="#6aab41" stroke="#0002" stroke-width="0.6"/>
<line x1="356.30" y1="99.16" x2="356.30" y2="100.25" stroke="#111" stroke-width="1.15" />
<line x1="354.10" y1="99.16" x2="358.50" y2="99.16" stroke="#000" stroke-width="1.6" />
<line x1="368.40" y1="100.53" x2="368.40" y2="100.80" stroke="#111" stroke-width="1.15" />
<line x1="366.20" y1="100.53" x2="370.60" y2="100.53" stroke="#000" stroke-width="1.6" />
<line x1="392.60" y1="100.66" x2="392.60" y2="100.80" stroke="#111" stroke-width="1.15" />
<line x1="390.40" y1="100.66" x2="394.80" y2="100.66" stroke="#000" stroke-width="1.6" />
<line x1="404.70" y1="100.25" x2="404.70" y2="100.80" stroke="#111" stroke-width="1.15" />
<line x1="402.50" y1="100.25" x2="406.90" y2="100.25" stroke="#000" stroke-width="1.6" />
<line x1="416.80" y1="100.66" x2="416.80" y2="100.80" stroke="#111" stroke-width="1.15" />
<line x1="414.60" y1="100.66" x2="419.00" y2="100.66" stroke="#000" stroke-width="1.6" />
<line x1="428.90" y1="100.25" x2="428.90" y2="100.80" stroke="#111" stroke-width="1.15" />
<line x1="426.70" y1="100.25" x2="431.10" y2="100.25" stroke="#000" stroke-width="1.6" />
<line x1="441.00" y1="100.53" x2="441.00" y2="100.80" stroke="#111" stroke-width="1.15" />
<line x1="438.80" y1="100.53" x2="443.20" y2="100.53" stroke="#000" stroke-width="1.6" />
<rect x="449.20" y="100.39" width="7.80" height="0.41" fill="#6aab41" stroke="#0002" stroke-width="0.6"/>
<line x1="453.10" y1="99.44" x2="453.10" y2="100.39" stroke="#111" stroke-width="1.15" />
<line x1="450.90" y1="99.44" x2="455.30" y2="99.44" stroke="#000" stroke-width="1.6" />
<line x1="465.20" y1="100.25" x2="465.20" y2="100.80" stroke="#111" stroke-width="1.15" />
<line x1="463.00" y1="100.25" x2="467.40" y2="100.25" stroke="#000" stroke-width="1.6" />
<line x1="477.30" y1="100.39" x2="477.30" y2="100.80" stroke="#111" stroke-width="1.15" />
<line x1="475.10" y1="100.39" x2="479.50" y2="100.39" stroke="#000" stroke-width="1.6" />
<line x1="489.40" y1="100.39" x2="489.40" y2="100.80" stroke="#111" stroke-width="1.15" />
<line x1="487.20" y1="100.39" x2="491.60" y2="100.39" stroke="#000" stroke-width="1.6" />
<line x1="501.50" y1="100.25" x2="501.50" y2="100.80" stroke="#111" stroke-width="1.15" />
<line x1="499.30" y1="100.25" x2="503.70" y2="100.25" stroke="#000" stroke-width="1.6" />
<line x1="336.20" y1="28.30" x2="336.20" y2="101.65" stroke="#000" stroke-width="1.7" />
<line x1="335.35" y1="100.80" x2="509.00" y2="100.80" stroke="#000" stroke-width="1.7" />
<line x1="332.20" y1="186.70" x2="336.20" y2="186.70" stroke="#111" stroke-width="1.2" />
<text x="328.20" y="189.80" font-size="8.9" text-anchor="end" font-weight="normal" fill="#111" stroke="#111" stroke-width="0.16" >0</text>
<line x1="332.20" y1="173.07" x2="336.20" y2="173.07" stroke="#111" stroke-width="1.2" />
<text x="328.20" y="176.17" font-size="8.9" text-anchor="end" font-weight="normal" fill="#111" stroke="#111" stroke-width="0.16" >10</text>
<line x1="332.20" y1="159.44" x2="336.20" y2="159.44" stroke="#111" stroke-width="1.2" />
<text x="328.20" y="162.54" font-size="8.9" text-anchor="end" font-weight="normal" fill="#111" stroke="#111" stroke-width="0.16" >20</text>
<line x1="332.20" y1="145.81" x2="336.20" y2="145.81" stroke="#111" stroke-width="1.2" />
<text x="328.20" y="148.91" font-size="8.9" text-anchor="end" font-weight="normal" fill="#111" stroke="#111" stroke-width="0.16" >30</text>
<line x1="332.20" y1="132.18" x2="336.20" y2="132.18" stroke="#111" stroke-width="1.2" />
<text x="328.20" y="135.28" font-size="8.9" text-anchor="end" font-weight="normal" fill="#111" stroke="#111" stroke-width="0.16" >40</text>
<line x1="332.20" y1="118.55" x2="336.20" y2="118.55" stroke="#111" stroke-width="1.2" />
<text x="328.20" y="121.65" font-size="8.9" text-anchor="end" font-weight="normal" fill="#111" stroke="#111" stroke-width="0.16" >50</text>
<text x="509.00" y="135.10" font-size="8.6" text-anchor="end" font-weight="normal" fill="#111" stroke="#111" stroke-width="0.08" textLength="45.6" lengthAdjust="spacingAndGlyphs">BCMA CAR</text>
<rect x="340.30" y="186.43" width="7.80" height="0.27" fill="#2d4b85" stroke="#0002" stroke-width="0.6"/>
<line x1="344.20" y1="185.88" x2="344.20" y2="186.43" stroke="#111" stroke-width="1.15" />
<line x1="342.00" y1="185.88" x2="346.40" y2="185.88" stroke="#000" stroke-width="1.6" />
<rect x="352.40" y="168.98" width="7.80" height="17.72" fill="#6aab41" stroke="#0002" stroke-width="0.6"/>
<line x1="356.30" y1="164.76" x2="356.30" y2="168.98" stroke="#111" stroke-width="1.15" />
<line x1="354.10" y1="164.76" x2="358.50" y2="164.76" stroke="#000" stroke-width="1.6" />
<rect x="364.50" y="176.34" width="7.80" height="10.36" fill="#6aab41" stroke="#0002" stroke-width="0.6"/>
<line x1="368.40" y1="172.66" x2="368.40" y2="176.34" stroke="#111" stroke-width="1.15" />
<line x1="366.20" y1="172.66" x2="370.60" y2="172.66" stroke="#000" stroke-width="1.6" />
<rect x="376.60" y="185.34" width="7.80" height="1.36" fill="#a8002e" stroke="#0002" stroke-width="0.6"/>
<line x1="380.50" y1="184.52" x2="380.50" y2="185.34" stroke="#111" stroke-width="1.15" />
<line x1="378.30" y1="184.52" x2="382.70" y2="184.52" stroke="#000" stroke-width="1.6" />
<rect x="388.70" y="183.02" width="7.80" height="3.68" fill="#2d4b85" stroke="#0002" stroke-width="0.6"/>
<line x1="392.60" y1="181.11" x2="392.60" y2="183.02" stroke="#111" stroke-width="1.15" />
<line x1="390.40" y1="181.11" x2="394.80" y2="181.11" stroke="#000" stroke-width="1.6" />
<rect x="400.80" y="184.38" width="7.80" height="2.32" fill="#2d4b85" stroke="#0002" stroke-width="0.6"/>
<line x1="404.70" y1="183.70" x2="404.70" y2="184.38" stroke="#111" stroke-width="1.15" />
<line x1="402.50" y1="183.70" x2="406.90" y2="183.70" stroke="#000" stroke-width="1.6" />
<rect x="412.90" y="185.61" width="7.80" height="1.09" fill="#2d4b85" stroke="#0002" stroke-width="0.6"/>
<line x1="416.80" y1="183.70" x2="416.80" y2="185.61" stroke="#111" stroke-width="1.15" />
<line x1="414.60" y1="183.70" x2="419.00" y2="183.70" stroke="#000" stroke-width="1.6" />
<rect x="425.00" y="181.52" width="7.80" height="5.18" fill="#6aab41" stroke="#0002" stroke-width="0.6"/>
<line x1="428.90" y1="179.48" x2="428.90" y2="181.52" stroke="#111" stroke-width="1.15" />
<line x1="426.70" y1="179.48" x2="431.10" y2="179.48" stroke="#000" stroke-width="1.6" />
<rect x="437.10" y="181.79" width="7.80" height="4.91" fill="#4f2264" stroke="#0002" stroke-width="0.6"/>
<line x1="441.00" y1="179.20" x2="441.00" y2="181.79" stroke="#111" stroke-width="1.15" />
<line x1="438.80" y1="179.20" x2="443.20" y2="179.20" stroke="#000" stroke-width="1.6" />
<rect x="449.20" y="182.34" width="7.80" height="4.36" fill="#6aab41" stroke="#0002" stroke-width="0.6"/>
<line x1="453.10" y1="178.66" x2="453.10" y2="182.34" stroke="#111" stroke-width="1.15" />
<line x1="450.90" y1="178.66" x2="455.30" y2="178.66" stroke="#000" stroke-width="1.6" />
<rect x="461.30" y="163.39" width="7.80" height="23.31" fill="#6aab41" stroke="#0002" stroke-width="0.6"/>
<line x1="465.20" y1="159.03" x2="465.20" y2="163.39" stroke="#111" stroke-width="1.15" />
<line x1="463.00" y1="159.03" x2="467.40" y2="159.03" stroke="#000" stroke-width="1.6" />
<rect x="473.40" y="183.02" width="7.80" height="3.68" fill="#6aab41" stroke="#0002" stroke-width="0.6"/>
<line x1="477.30" y1="179.48" x2="477.30" y2="183.02" stroke="#111" stroke-width="1.15" />
<line x1="475.10" y1="179.48" x2="479.50" y2="179.48" stroke="#000" stroke-width="1.6" />
<rect x="485.50" y="181.11" width="7.80" height="5.59" fill="#e6901c" stroke="#0002" stroke-width="0.6"/>
<line x1="489.40" y1="178.66" x2="489.40" y2="181.11" stroke="#111" stroke-width="1.15" />
<line x1="487.20" y1="178.66" x2="491.60" y2="178.66" stroke="#000" stroke-width="1.6" />
<rect x="497.60" y="186.02" width="7.80" height="0.68" fill="#e6901c" stroke="#0002" stroke-width="0.6"/>
<line x1="501.50" y1="185.06" x2="501.50" y2="186.02" stroke="#111" stroke-width="1.15" />
<line x1="499.30" y1="185.06" x2="503.70" y2="185.06" stroke="#000" stroke-width="1.6" />
<line x1="336.20" y1="114.20" x2="336.20" y2="187.55" stroke="#000" stroke-width="1.7" />
<line x1="335.35" y1="186.70" x2="509.00" y2="186.70" stroke="#000" stroke-width="1.7" />
<line x1="332.20" y1="272.60" x2="336.20" y2="272.60" stroke="#111" stroke-width="1.2" />
<text x="328.20" y="275.70" font-size="8.9" text-anchor="end" font-weight="normal" fill="#111" stroke="#111" stroke-width="0.16" >0</text>
<line x1="332.20" y1="258.97" x2="336.20" y2="258.97" stroke="#111" stroke-width="1.2" />
<text x="328.20" y="262.07" font-size="8.9" text-anchor="end" font-weight="normal" fill="#111" stroke="#111" stroke-width="0.16" >10</text>
<line x1="332.20" y1="245.34" x2="336.20" y2="245.34" stroke="#111" stroke-width="1.2" />
<text x="328.20" y="248.44" font-size="8.9" text-anchor="end" font-weight="normal" fill="#111" stroke="#111" stroke-width="0.16" >20</text>
<line x1="332.20" y1="231.71" x2="336.20" y2="231.71" stroke="#111" stroke-width="1.2" />
<text x="328.20" y="234.81" font-size="8.9" text-anchor="end" font-weight="normal" fill="#111" stroke="#111" stroke-width="0.16" >30</text>
<line x1="332.20" y1="218.08" x2="336.20" y2="218.08" stroke="#111" stroke-width="1.2" />
<text x="328.20" y="221.18" font-size="8.9" text-anchor="end" font-weight="normal" fill="#111" stroke="#111" stroke-width="0.16" >40</text>
<line x1="332.20" y1="204.45" x2="336.20" y2="204.45" stroke="#111" stroke-width="1.2" />
<text x="328.20" y="207.55" font-size="8.9" text-anchor="end" font-weight="normal" fill="#111" stroke="#111" stroke-width="0.16" >50</text>
<text x="509.00" y="221.00" font-size="8.6" text-anchor="end" font-weight="normal" fill="#111" stroke="#111" stroke-width="0.08" textLength="44.2" lengthAdjust="spacingAndGlyphs">APRIL CAR</text>
<line x1="344.20" y1="271.78" x2="344.20" y2="272.60" stroke="#111" stroke-width="1.15" />
<line x1="342.00" y1="271.78" x2="346.40" y2="271.78" stroke="#000" stroke-width="1.6" />
<rect x="352.40" y="256.24" width="7.80" height="16.36" fill="#6aab41" stroke="#0002" stroke-width="0.6"/>
<line x1="356.30" y1="251.47" x2="356.30" y2="256.24" stroke="#111" stroke-width="1.15" />
<line x1="354.10" y1="251.47" x2="358.50" y2="251.47" stroke="#000" stroke-width="1.6" />
<rect x="364.50" y="267.83" width="7.80" height="4.77" fill="#6aab41" stroke="#0002" stroke-width="0.6"/>
<line x1="368.40" y1="265.79" x2="368.40" y2="267.83" stroke="#111" stroke-width="1.15" />
<line x1="366.20" y1="265.79" x2="370.60" y2="265.79" stroke="#000" stroke-width="1.6" />
<line x1="380.50" y1="272.33" x2="380.50" y2="272.60" stroke="#111" stroke-width="1.15" />
<line x1="378.30" y1="272.33" x2="382.70" y2="272.33" stroke="#000" stroke-width="1.6" />
<line x1="392.60" y1="271.51" x2="392.60" y2="272.60" stroke="#111" stroke-width="1.15" />
<line x1="390.40" y1="271.51" x2="394.80" y2="271.51" stroke="#000" stroke-width="1.6" />
<line x1="404.70" y1="271.78" x2="404.70" y2="272.60" stroke="#111" stroke-width="1.15" />
<line x1="402.50" y1="271.78" x2="406.90" y2="271.78" stroke="#000" stroke-width="1.6" />
<line x1="416.80" y1="272.19" x2="416.80" y2="272.60" stroke="#111" stroke-width="1.15" />
<line x1="414.60" y1="272.19" x2="419.00" y2="272.19" stroke="#000" stroke-width="1.6" />
<rect x="425.00" y="269.06" width="7.80" height="3.54" fill="#6aab41" stroke="#0002" stroke-width="0.6"/>
<line x1="428.90" y1="268.24" x2="428.90" y2="269.06" stroke="#111" stroke-width="1.15" />
<line x1="426.70" y1="268.24" x2="431.10" y2="268.24" stroke="#000" stroke-width="1.6" />
<line x1="441.00" y1="271.78" x2="441.00" y2="272.60" stroke="#111" stroke-width="1.15" />
<line x1="438.80" y1="271.78" x2="443.20" y2="271.78" stroke="#000" stroke-width="1.6" />
<line x1="453.10" y1="271.51" x2="453.10" y2="272.60" stroke="#111" stroke-width="1.15" />
<line x1="450.90" y1="271.51" x2="455.30" y2="271.51" stroke="#000" stroke-width="1.6" />
<rect x="461.30" y="261.42" width="7.80" height="11.18" fill="#6aab41" stroke="#0002" stroke-width="0.6"/>
<line x1="465.20" y1="255.43" x2="465.20" y2="261.42" stroke="#111" stroke-width="1.15" />
<line x1="463.00" y1="255.43" x2="467.40" y2="255.43" stroke="#000" stroke-width="1.6" />
<rect x="473.40" y="268.65" width="7.80" height="3.95" fill="#6aab41" stroke="#0002" stroke-width="0.6"/>
<line x1="477.30" y1="267.97" x2="477.30" y2="268.65" stroke="#111" stroke-width="1.15" />
<line x1="475.10" y1="267.97" x2="479.50" y2="267.97" stroke="#000" stroke-width="1.6" />
<rect x="485.50" y="272.19" width="7.80" height="0.41" fill="#e6901c" stroke="#0002" stroke-width="0.6"/>
<line x1="489.40" y1="271.10" x2="489.40" y2="272.19" stroke="#111" stroke-width="1.15" />
<line x1="487.20" y1="271.10" x2="491.60" y2="271.10" stroke="#000" stroke-width="1.6" />
<line x1="501.50" y1="272.19" x2="501.50" y2="272.60" stroke="#111" stroke-width="1.15" />
<line x1="499.30" y1="272.19" x2="503.70" y2="272.19" stroke="#000" stroke-width="1.6" />
<line x1="336.20" y1="200.10" x2="336.20" y2="273.45" stroke="#000" stroke-width="1.7" />
<line x1="335.35" y1="272.60" x2="509.00" y2="272.60" stroke="#000" stroke-width="1.7" />
<line x1="332.20" y1="358.50" x2="336.20" y2="358.50" stroke="#111" stroke-width="1.2" />
<text x="328.20" y="361.60" font-size="8.9" text-anchor="end" font-weight="normal" fill="#111" stroke="#111" stroke-width="0.16" >0</text>
<line x1="332.20" y1="344.87" x2="336.20" y2="344.87" stroke="#111" stroke-width="1.2" />
<text x="328.20" y="347.97" font-size="8.9" text-anchor="end" font-weight="normal" fill="#111" stroke="#111" stroke-width="0.16" >10</text>
<line x1="332.20" y1="331.24" x2="336.20" y2="331.24" stroke="#111" stroke-width="1.2" />
<text x="328.20" y="334.34" font-size="8.9" text-anchor="end" font-weight="normal" fill="#111" stroke="#111" stroke-width="0.16" >20</text>
<line x1="332.20" y1="317.61" x2="336.20" y2="317.61" stroke="#111" stroke-width="1.2" />
<text x="328.20" y="320.71" font-size="8.9" text-anchor="end" font-weight="normal" fill="#111" stroke="#111" stroke-width="0.16" >30</text>
<line x1="332.20" y1="303.98" x2="336.20" y2="303.98" stroke="#111" stroke-width="1.2" />
<text x="328.20" y="307.08" font-size="8.9" text-anchor="end" font-weight="normal" fill="#111" stroke="#111" stroke-width="0.16" >40</text>
<line x1="332.20" y1="290.35" x2="336.20" y2="290.35" stroke="#111" stroke-width="1.2" />
<text x="328.20" y="293.45" font-size="8.9" text-anchor="end" font-weight="normal" fill="#111" stroke="#111" stroke-width="0.16" >50</text>
<text x="509.00" y="306.90" font-size="8.6" text-anchor="end" font-weight="normal" fill="#111" stroke="#111" stroke-width="0.08" textLength="46.9" lengthAdjust="spacingAndGlyphs">TriPRIL CAR</text>
<rect x="340.30" y="355.77" width="7.80" height="2.73" fill="#2d4b85" stroke="#0002" stroke-width="0.6"/>
<line x1="344.20" y1="352.64" x2="344.20" y2="355.77" stroke="#111" stroke-width="1.15" />
<line x1="342.00" y1="352.64" x2="346.40" y2="352.64" stroke="#000" stroke-width="1.6" />
<rect x="352.40" y="339.42" width="7.80" height="19.08" fill="#6aab41" stroke="#0002" stroke-width="0.6"/>
<line x1="356.30" y1="336.69" x2="356.30" y2="339.42" stroke="#111" stroke-width="1.15" />
<line x1="354.10" y1="336.69" x2="358.50" y2="336.69" stroke="#000" stroke-width="1.6" />
<rect x="364.50" y="349.23" width="7.80" height="9.27" fill="#6aab41" stroke="#0002" stroke-width="0.6"/>
<line x1="368.40" y1="345.42" x2="368.40" y2="349.23" stroke="#111" stroke-width="1.15" />
<line x1="366.20" y1="345.42" x2="370.60" y2="345.42" stroke="#000" stroke-width="1.6" />
<rect x="376.60" y="356.86" width="7.80" height="1.64" fill="#a8002e" stroke="#0002" stroke-width="0.6"/>
<line x1="380.50" y1="355.91" x2="380.50" y2="356.86" stroke="#111" stroke-width="1.15" />
<line x1="378.30" y1="355.91" x2="382.70" y2="355.91" stroke="#000" stroke-width="1.6" />
<rect x="388.70" y="354.27" width="7.80" height="4.23" fill="#6fb3e3" stroke="#0002" stroke-width="0.6"/>
<line x1="392.60" y1="350.46" x2="392.60" y2="354.27" stroke="#111" stroke-width="1.15" />
<line x1="390.40" y1="350.46" x2="394.80" y2="350.46" stroke="#000" stroke-width="1.6" />
<rect x="400.80" y="356.59" width="7.80" height="1.91" fill="#2d4b85" stroke="#0002" stroke-width="0.6"/>
<line x1="404.70" y1="356.18" x2="404.70" y2="356.59" stroke="#111" stroke-width="1.15" />
<line x1="402.50" y1="356.18" x2="406.90" y2="356.18" stroke="#000" stroke-width="1.6" />
<rect x="412.90" y="357.82" width="7.80" height="0.68" fill="#6fb3e3" stroke="#0002" stroke-width="0.6"/>
<line x1="416.80" y1="356.18" x2="416.80" y2="357.82" stroke="#111" stroke-width="1.15" />
<line x1="414.60" y1="356.18" x2="419.00" y2="356.18" stroke="#000" stroke-width="1.6" />
<rect x="425.00" y="353.05" width="7.80" height="5.45" fill="#6aab41" stroke="#0002" stroke-width="0.6"/>
<line x1="428.90" y1="352.37" x2="428.90" y2="353.05" stroke="#111" stroke-width="1.15" />
<line x1="426.70" y1="352.37" x2="431.10" y2="352.37" stroke="#000" stroke-width="1.6" />
<rect x="437.10" y="354.96" width="7.80" height="3.54" fill="#4f2264" stroke="#0002" stroke-width="0.6"/>
<line x1="441.00" y1="352.23" x2="441.00" y2="354.96" stroke="#111" stroke-width="1.15" />
<line x1="438.80" y1="352.23" x2="443.20" y2="352.23" stroke="#000" stroke-width="1.6" />
<rect x="449.20" y="355.09" width="7.80" height="3.41" fill="#6aab41" stroke="#0002" stroke-width="0.6"/>
<line x1="453.10" y1="353.46" x2="453.10" y2="355.09" stroke="#111" stroke-width="1.15" />
<line x1="450.90" y1="353.46" x2="455.30" y2="353.46" stroke="#000" stroke-width="1.6" />
<rect x="461.30" y="334.92" width="7.80" height="23.58" fill="#6aab41" stroke="#0002" stroke-width="0.6"/>
<line x1="465.20" y1="333.69" x2="465.20" y2="334.92" stroke="#111" stroke-width="1.15" />
<line x1="463.00" y1="333.69" x2="467.40" y2="333.69" stroke="#000" stroke-width="1.6" />
<rect x="473.40" y="348.28" width="7.80" height="10.22" fill="#6aab41" stroke="#0002" stroke-width="0.6"/>
<line x1="477.30" y1="343.10" x2="477.30" y2="348.28" stroke="#111" stroke-width="1.15" />
<line x1="475.10" y1="343.10" x2="479.50" y2="343.10" stroke="#000" stroke-width="1.6" />
<rect x="485.50" y="352.23" width="7.80" height="6.27" fill="#e6901c" stroke="#0002" stroke-width="0.6"/>
<line x1="489.40" y1="350.46" x2="489.40" y2="352.23" stroke="#111" stroke-width="1.15" />
<line x1="487.20" y1="350.46" x2="491.60" y2="350.46" stroke="#000" stroke-width="1.6" />
<rect x="497.60" y="356.18" width="7.80" height="2.32" fill="#e6901c" stroke="#0002" stroke-width="0.6"/>
<line x1="501.50" y1="354.55" x2="501.50" y2="356.18" stroke="#111" stroke-width="1.15" />
<line x1="499.30" y1="354.55" x2="503.70" y2="354.55" stroke="#000" stroke-width="1.6" />
<line x1="336.20" y1="286.00" x2="336.20" y2="359.35" stroke="#000" stroke-width="1.7" />
<line x1="335.35" y1="358.50" x2="509.00" y2="358.50" stroke="#000" stroke-width="1.7" />
<line x1="344.20" y1="358.50" x2="344.20" y2="362.50" stroke="#111" stroke-width="1.1" />
<text transform="translate(347.20,370.30) rotate(-45) scale(0.95,1)" x="0" y="0" font-size="8.8" text-anchor="end" fill="#111" stroke="#111" stroke-width="0.16">GM-CSF</text>
<line x1="356.30" y1="358.50" x2="356.30" y2="362.50" stroke="#111" stroke-width="1.1" />
<text transform="translate(359.30,370.30) rotate(-45) scale(0.95,1)" x="0" y="0" font-size="8.8" text-anchor="end" fill="#111" stroke="#111" stroke-width="0.16">Granzyme B</text>
<line x1="368.40" y1="358.50" x2="368.40" y2="362.50" stroke="#111" stroke-width="1.1" />
<text transform="translate(371.40,370.30) rotate(-45) scale(0.95,1)" x="0" y="0" font-size="8.8" text-anchor="end" fill="#111" stroke="#111" stroke-width="0.16">IFN-γ</text>
<line x1="380.50" y1="358.50" x2="380.50" y2="362.50" stroke="#111" stroke-width="1.1" />
<text transform="translate(383.50,370.30) rotate(-45) scale(0.95,1)" x="0" y="0" font-size="8.8" text-anchor="end" fill="#111" stroke="#111" stroke-width="0.16">IL-17A</text>
<line x1="392.60" y1="358.50" x2="392.60" y2="362.50" stroke="#111" stroke-width="1.1" />
<text transform="translate(395.60,370.30) rotate(-45) scale(0.95,1)" x="0" y="0" font-size="8.8" text-anchor="end" fill="#111" stroke="#111" stroke-width="0.16">IL-2</text>
<line x1="404.70" y1="358.50" x2="404.70" y2="362.50" stroke="#111" stroke-width="1.1" />
<text transform="translate(407.70,370.30) rotate(-45) scale(0.95,1)" x="0" y="0" font-size="8.8" text-anchor="end" fill="#111" stroke="#111" stroke-width="0.16">IL-8</text>
<line x1="416.80" y1="358.50" x2="416.80" y2="362.50" stroke="#111" stroke-width="1.1" />
<text transform="translate(419.80,370.30) rotate(-45) scale(0.95,1)" x="0" y="0" font-size="8.8" text-anchor="end" fill="#111" stroke="#111" stroke-width="0.16">IL-9</text>
<line x1="428.90" y1="358.50" x2="428.90" y2="362.50" stroke="#111" stroke-width="1.1" />
<text transform="translate(431.90,370.30) rotate(-45) scale(0.95,1)" x="0" y="0" font-size="8.8" text-anchor="end" fill="#111" stroke="#111" stroke-width="0.16">MIP-1α</text>
<line x1="441.00" y1="358.50" x2="441.00" y2="362.50" stroke="#111" stroke-width="1.1" />
<text transform="translate(444.00,370.30) rotate(-45) scale(0.95,1)" x="0" y="0" font-size="8.8" text-anchor="end" fill="#111" stroke="#111" stroke-width="0.16">MIP-1β</text>
<line x1="453.10" y1="358.50" x2="453.10" y2="362.50" stroke="#111" stroke-width="1.1" />
<text transform="translate(456.10,370.30) rotate(-45) scale(0.95,1)" x="0" y="0" font-size="8.8" text-anchor="end" fill="#111" stroke="#111" stroke-width="0.16">Perforin</text>
<line x1="465.20" y1="358.50" x2="465.20" y2="362.50" stroke="#111" stroke-width="1.1" />
<text transform="translate(468.20,370.30) rotate(-45) scale(0.95,1)" x="0" y="0" font-size="8.8" text-anchor="end" fill="#111" stroke="#111" stroke-width="0.16">TNF-α</text>
<line x1="477.30" y1="358.50" x2="477.30" y2="362.50" stroke="#111" stroke-width="1.1" />
<text transform="translate(480.30,370.30) rotate(-45) scale(0.95,1)" x="0" y="0" font-size="8.8" text-anchor="end" fill="#111" stroke="#111" stroke-width="0.16">TNF-β</text>
<line x1="489.40" y1="358.50" x2="489.40" y2="362.50" stroke="#111" stroke-width="1.1" />
<text transform="translate(492.40,370.30) rotate(-45) scale(0.95,1)" x="0" y="0" font-size="8.8" text-anchor="end" fill="#111" stroke="#111" stroke-width="0.16">sCD137</text>
<line x1="501.50" y1="358.50" x2="501.50" y2="362.50" stroke="#111" stroke-width="1.1" />
<text transform="translate(504.50,370.30) rotate(-45) scale(0.95,1)" x="0" y="0" font-size="8.8" text-anchor="end" fill="#111" stroke="#111" stroke-width="0.16">sCD40L</text>
<line x1="332.20" y1="487.80" x2="336.20" y2="487.80" stroke="#111" stroke-width="1.2" />
<text x="328.20" y="490.90" font-size="8.9" text-anchor="end" font-weight="normal" fill="#111" stroke="#111" stroke-width="0.16" >0</text>
<line x1="332.20" y1="474.17" x2="336.20" y2="474.17" stroke="#111" stroke-width="1.2" />
<text x="328.20" y="477.27" font-size="8.9" text-anchor="end" font-weight="normal" fill="#111" stroke="#111" stroke-width="0.16" >10</text>
<line x1="332.20" y1="460.54" x2="336.20" y2="460.54" stroke="#111" stroke-width="1.2" />
<text x="328.20" y="463.64" font-size="8.9" text-anchor="end" font-weight="normal" fill="#111" stroke="#111" stroke-width="0.16" >20</text>
<line x1="332.20" y1="446.91" x2="336.20" y2="446.91" stroke="#111" stroke-width="1.2" />
<text x="328.20" y="450.01" font-size="8.9" text-anchor="end" font-weight="normal" fill="#111" stroke="#111" stroke-width="0.16" >30</text>
<line x1="332.20" y1="433.28" x2="336.20" y2="433.28" stroke="#111" stroke-width="1.2" />
<text x="328.20" y="436.38" font-size="8.9" text-anchor="end" font-weight="normal" fill="#111" stroke="#111" stroke-width="0.16" >40</text>
<line x1="332.20" y1="419.65" x2="336.20" y2="419.65" stroke="#111" stroke-width="1.2" />
<text x="328.20" y="422.75" font-size="8.9" text-anchor="end" font-weight="normal" fill="#111" stroke="#111" stroke-width="0.16" >50</text>
<text x="502.60" y="436.20" font-size="8.6" text-anchor="end" font-weight="normal" fill="#111" stroke="#111" stroke-width="0.08" textLength="16.9" lengthAdjust="spacingAndGlyphs">UTD</text>
<rect x="342.25" y="474.17" width="11.50" height="13.63" fill="#6aab41" stroke="#0002" stroke-width="0.6"/>
<line x1="348.00" y1="470.08" x2="348.00" y2="474.17" stroke="#111" stroke-width="1.15" />
<line x1="345.80" y1="470.08" x2="350.20" y2="470.08" stroke="#000" stroke-width="1.6" />
<line x1="365.90" y1="487.39" x2="365.90" y2="487.80" stroke="#111" stroke-width="1.15" />
<line x1="363.70" y1="487.39" x2="368.10" y2="487.39" stroke="#000" stroke-width="1.6" />
<line x1="383.80" y1="487.53" x2="383.80" y2="487.80" stroke="#111" stroke-width="1.15" />
<line x1="381.60" y1="487.53" x2="386.00" y2="487.53" stroke="#000" stroke-width="1.6" />
<line x1="401.70" y1="487.12" x2="401.70" y2="487.80" stroke="#111" stroke-width="1.15" />
<line x1="399.50" y1="487.12" x2="403.90" y2="487.12" stroke="#000" stroke-width="1.6" />
<line x1="419.60" y1="487.25" x2="419.60" y2="487.80" stroke="#111" stroke-width="1.15" />
<line x1="417.40" y1="487.25" x2="421.80" y2="487.25" stroke="#000" stroke-width="1.6" />
<line x1="437.50" y1="487.53" x2="437.50" y2="487.80" stroke="#111" stroke-width="1.15" />
<line x1="435.30" y1="487.53" x2="439.70" y2="487.53" stroke="#000" stroke-width="1.6" />
<line x1="455.40" y1="487.53" x2="455.40" y2="487.80" stroke="#111" stroke-width="1.15" />
<line x1="453.20" y1="487.53" x2="457.60" y2="487.53" stroke="#000" stroke-width="1.6" />
<line x1="473.30" y1="486.98" x2="473.30" y2="487.80" stroke="#111" stroke-width="1.15" />
<line x1="471.10" y1="486.98" x2="475.50" y2="486.98" stroke="#000" stroke-width="1.6" />
<line x1="491.20" y1="486.71" x2="491.20" y2="487.80" stroke="#111" stroke-width="1.15" />
<line x1="489.00" y1="486.71" x2="493.40" y2="486.71" stroke="#000" stroke-width="1.6" />
<line x1="336.20" y1="415.30" x2="336.20" y2="488.65" stroke="#000" stroke-width="1.7" />
<line x1="335.35" y1="487.80" x2="502.60" y2="487.80" stroke="#000" stroke-width="1.7" />
<line x1="332.20" y1="573.73" x2="336.20" y2="573.73" stroke="#111" stroke-width="1.2" />
<text x="328.20" y="576.83" font-size="8.9" text-anchor="end" font-weight="normal" fill="#111" stroke="#111" stroke-width="0.16" >0</text>
<line x1="332.20" y1="560.10" x2="336.20" y2="560.10" stroke="#111" stroke-width="1.2" />
<text x="328.20" y="563.20" font-size="8.9" text-anchor="end" font-weight="normal" fill="#111" stroke="#111" stroke-width="0.16" >10</text>
<line x1="332.20" y1="546.47" x2="336.20" y2="546.47" stroke="#111" stroke-width="1.2" />
<text x="328.20" y="549.57" font-size="8.9" text-anchor="end" font-weight="normal" fill="#111" stroke="#111" stroke-width="0.16" >20</text>
<line x1="332.20" y1="532.84" x2="336.20" y2="532.84" stroke="#111" stroke-width="1.2" />
<text x="328.20" y="535.94" font-size="8.9" text-anchor="end" font-weight="normal" fill="#111" stroke="#111" stroke-width="0.16" >30</text>
<line x1="332.20" y1="519.21" x2="336.20" y2="519.21" stroke="#111" stroke-width="1.2" />
<text x="328.20" y="522.31" font-size="8.9" text-anchor="end" font-weight="normal" fill="#111" stroke="#111" stroke-width="0.16" >40</text>
<line x1="332.20" y1="505.58" x2="336.20" y2="505.58" stroke="#111" stroke-width="1.2" />
<text x="328.20" y="508.68" font-size="8.9" text-anchor="end" font-weight="normal" fill="#111" stroke="#111" stroke-width="0.16" >50</text>
<text x="502.60" y="522.13" font-size="8.6" text-anchor="end" font-weight="normal" fill="#111" stroke="#111" stroke-width="0.08" textLength="45.6" lengthAdjust="spacingAndGlyphs">BCMA CAR</text>
<rect x="342.25" y="519.21" width="11.50" height="54.52" fill="#6aab41" stroke="#0002" stroke-width="0.6"/>
<line x1="348.00" y1="514.17" x2="348.00" y2="519.21" stroke="#111" stroke-width="1.15" />
<line x1="345.80" y1="514.17" x2="350.20" y2="514.17" stroke="#000" stroke-width="1.6" />
<rect x="360.15" y="564.05" width="11.50" height="9.68" fill="#6aab41" stroke="#0002" stroke-width="0.6"/>
<line x1="365.90" y1="563.51" x2="365.90" y2="564.05" stroke="#111" stroke-width="1.15" />
<line x1="363.70" y1="563.51" x2="368.10" y2="563.51" stroke="#000" stroke-width="1.6" />
<rect x="378.05" y="572.64" width="11.50" height="1.09" fill="#2d4b85" stroke="#0002" stroke-width="0.6"/>
<line x1="383.80" y1="571.69" x2="383.80" y2="572.64" stroke="#111" stroke-width="1.15" />
<line x1="381.60" y1="571.69" x2="386.00" y2="571.69" stroke="#000" stroke-width="1.6" />
<rect x="395.95" y="567.87" width="11.50" height="5.86" fill="#6aab41" stroke="#0002" stroke-width="0.6"/>
<line x1="401.70" y1="565.55" x2="401.70" y2="567.87" stroke="#111" stroke-width="1.15" />
<line x1="399.50" y1="565.55" x2="403.90" y2="565.55" stroke="#000" stroke-width="1.6" />
<rect x="413.85" y="572.78" width="11.50" height="0.95" fill="#4f2264" stroke="#0002" stroke-width="0.6"/>
<line x1="419.60" y1="572.37" x2="419.60" y2="572.78" stroke="#111" stroke-width="1.15" />
<line x1="417.40" y1="572.37" x2="421.80" y2="572.37" stroke="#000" stroke-width="1.6" />
<rect x="431.75" y="572.91" width="11.50" height="0.82" fill="#6aab41" stroke="#0002" stroke-width="0.6"/>
<line x1="437.50" y1="572.50" x2="437.50" y2="572.91" stroke="#111" stroke-width="1.15" />
<line x1="435.30" y1="572.50" x2="439.70" y2="572.50" stroke="#000" stroke-width="1.6" />
<rect x="449.65" y="568.14" width="11.50" height="5.59" fill="#6aab41" stroke="#0002" stroke-width="0.6"/>
<line x1="455.40" y1="566.64" x2="455.40" y2="568.14" stroke="#111" stroke-width="1.15" />
<line x1="453.20" y1="566.64" x2="457.60" y2="566.64" stroke="#000" stroke-width="1.6" />
<rect x="467.55" y="573.46" width="11.50" height="0.27" fill="#6aab41" stroke="#0002" stroke-width="0.6"/>
<line x1="473.30" y1="572.78" x2="473.30" y2="573.46" stroke="#111" stroke-width="1.15" />
<line x1="471.10" y1="572.78" x2="475.50" y2="572.78" stroke="#000" stroke-width="1.6" />
<rect x="485.45" y="567.87" width="11.50" height="5.86" fill="#e6901c" stroke="#0002" stroke-width="0.6"/>
<line x1="491.20" y1="565.28" x2="491.20" y2="567.87" stroke="#111" stroke-width="1.15" />
<line x1="489.00" y1="565.28" x2="493.40" y2="565.28" stroke="#000" stroke-width="1.6" />
<line x1="336.20" y1="501.23" x2="336.20" y2="574.58" stroke="#000" stroke-width="1.7" />
<line x1="335.35" y1="573.73" x2="502.60" y2="573.73" stroke="#000" stroke-width="1.7" />
<line x1="332.20" y1="659.66" x2="336.20" y2="659.66" stroke="#111" stroke-width="1.2" />
<text x="328.20" y="662.76" font-size="8.9" text-anchor="end" font-weight="normal" fill="#111" stroke="#111" stroke-width="0.16" >0</text>
<line x1="332.20" y1="646.03" x2="336.20" y2="646.03" stroke="#111" stroke-width="1.2" />
<text x="328.20" y="649.13" font-size="8.9" text-anchor="end" font-weight="normal" fill="#111" stroke="#111" stroke-width="0.16" >10</text>
<line x1="332.20" y1="632.40" x2="336.20" y2="632.40" stroke="#111" stroke-width="1.2" />
<text x="328.20" y="635.50" font-size="8.9" text-anchor="end" font-weight="normal" fill="#111" stroke="#111" stroke-width="0.16" >20</text>
<line x1="332.20" y1="618.77" x2="336.20" y2="618.77" stroke="#111" stroke-width="1.2" />
<text x="328.20" y="621.87" font-size="8.9" text-anchor="end" font-weight="normal" fill="#111" stroke="#111" stroke-width="0.16" >30</text>
<line x1="332.20" y1="605.14" x2="336.20" y2="605.14" stroke="#111" stroke-width="1.2" />
<text x="328.20" y="608.24" font-size="8.9" text-anchor="end" font-weight="normal" fill="#111" stroke="#111" stroke-width="0.16" >40</text>
<line x1="332.20" y1="591.51" x2="336.20" y2="591.51" stroke="#111" stroke-width="1.2" />
<text x="328.20" y="594.61" font-size="8.9" text-anchor="end" font-weight="normal" fill="#111" stroke="#111" stroke-width="0.16" >50</text>
<text x="502.60" y="608.06" font-size="8.6" text-anchor="end" font-weight="normal" fill="#111" stroke="#111" stroke-width="0.08" textLength="44.2" lengthAdjust="spacingAndGlyphs">APRIL CAR</text>
<rect x="342.25" y="628.31" width="11.50" height="31.35" fill="#6aab41" stroke="#0002" stroke-width="0.6"/>
<line x1="348.00" y1="615.09" x2="348.00" y2="628.31" stroke="#111" stroke-width="1.15" />
<line x1="345.80" y1="615.09" x2="350.20" y2="615.09" stroke="#000" stroke-width="1.6" />
<rect x="360.15" y="656.93" width="11.50" height="2.73" fill="#6aab41" stroke="#0002" stroke-width="0.6"/>
<line x1="365.90" y1="655.03" x2="365.90" y2="656.93" stroke="#111" stroke-width="1.15" />
<line x1="363.70" y1="655.03" x2="368.10" y2="655.03" stroke="#000" stroke-width="1.6" />
<line x1="383.80" y1="659.25" x2="383.80" y2="659.66" stroke="#111" stroke-width="1.15" />
<line x1="381.60" y1="659.25" x2="386.00" y2="659.25" stroke="#000" stroke-width="1.6" />
<rect x="395.95" y="658.57" width="11.50" height="1.09" fill="#6aab41" stroke="#0002" stroke-width="0.6"/>
<line x1="401.70" y1="657.21" x2="401.70" y2="658.57" stroke="#111" stroke-width="1.15" />
<line x1="399.50" y1="657.21" x2="403.90" y2="657.21" stroke="#000" stroke-width="1.6" />
<rect x="413.85" y="659.39" width="11.50" height="0.27" fill="#4f2264" stroke="#0002" stroke-width="0.6"/>
<line x1="419.60" y1="658.57" x2="419.60" y2="659.39" stroke="#111" stroke-width="1.15" />
<line x1="417.40" y1="658.57" x2="421.80" y2="658.57" stroke="#000" stroke-width="1.6" />
<rect x="431.75" y="659.39" width="11.50" height="0.27" fill="#6aab41" stroke="#0002" stroke-width="0.6"/>
<line x1="437.50" y1="658.57" x2="437.50" y2="659.39" stroke="#111" stroke-width="1.15" />
<line x1="435.30" y1="658.57" x2="439.70" y2="658.57" stroke="#000" stroke-width="1.6" />
<rect x="449.65" y="659.39" width="11.50" height="0.27" fill="#6aab41" stroke="#0002" stroke-width="0.6"/>
<line x1="455.40" y1="658.57" x2="455.40" y2="659.39" stroke="#111" stroke-width="1.15" />
<line x1="453.20" y1="658.57" x2="457.60" y2="658.57" stroke="#000" stroke-width="1.6" />
<rect x="467.55" y="659.39" width="11.50" height="0.27" fill="#6aab41" stroke="#0002" stroke-width="0.6"/>
<line x1="473.30" y1="658.57" x2="473.30" y2="659.39" stroke="#111" stroke-width="1.15" />
<line x1="471.10" y1="658.57" x2="475.50" y2="658.57" stroke="#000" stroke-width="1.6" />
<rect x="485.45" y="658.84" width="11.50" height="0.82" fill="#e6901c" stroke="#0002" stroke-width="0.6"/>
<line x1="491.20" y1="657.21" x2="491.20" y2="658.84" stroke="#111" stroke-width="1.15" />
<line x1="489.00" y1="657.21" x2="493.40" y2="657.21" stroke="#000" stroke-width="1.6" />
<line x1="336.20" y1="587.16" x2="336.20" y2="660.51" stroke="#000" stroke-width="1.7" />
<line x1="335.35" y1="659.66" x2="502.60" y2="659.66" stroke="#000" stroke-width="1.7" />
<line x1="332.20" y1="745.59" x2="336.20" y2="745.59" stroke="#111" stroke-width="1.2" />
<text x="328.20" y="748.69" font-size="8.9" text-anchor="end" font-weight="normal" fill="#111" stroke="#111" stroke-width="0.16" >0</text>
<line x1="332.20" y1="731.96" x2="336.20" y2="731.96" stroke="#111" stroke-width="1.2" />
<text x="328.20" y="735.06" font-size="8.9" text-anchor="end" font-weight="normal" fill="#111" stroke="#111" stroke-width="0.16" >10</text>
<line x1="332.20" y1="718.33" x2="336.20" y2="718.33" stroke="#111" stroke-width="1.2" />
<text x="328.20" y="721.43" font-size="8.9" text-anchor="end" font-weight="normal" fill="#111" stroke="#111" stroke-width="0.16" >20</text>
<line x1="332.20" y1="704.70" x2="336.20" y2="704.70" stroke="#111" stroke-width="1.2" />
<text x="328.20" y="707.80" font-size="8.9" text-anchor="end" font-weight="normal" fill="#111" stroke="#111" stroke-width="0.16" >30</text>
<line x1="332.20" y1="691.07" x2="336.20" y2="691.07" stroke="#111" stroke-width="1.2" />
<text x="328.20" y="694.17" font-size="8.9" text-anchor="end" font-weight="normal" fill="#111" stroke="#111" stroke-width="0.16" >40</text>
<line x1="332.20" y1="677.44" x2="336.20" y2="677.44" stroke="#111" stroke-width="1.2" />
<text x="328.20" y="680.54" font-size="8.9" text-anchor="end" font-weight="normal" fill="#111" stroke="#111" stroke-width="0.16" >50</text>
<text x="502.60" y="693.99" font-size="8.6" text-anchor="end" font-weight="normal" fill="#111" stroke="#111" stroke-width="0.08" textLength="46.9" lengthAdjust="spacingAndGlyphs">TriPRIL CAR</text>
<rect x="342.25" y="686.98" width="11.50" height="58.61" fill="#6aab41" stroke="#0002" stroke-width="0.6"/>
<line x1="348.00" y1="676.08" x2="348.00" y2="686.98" stroke="#111" stroke-width="1.15" />
<line x1="345.80" y1="676.08" x2="350.20" y2="676.08" stroke="#000" stroke-width="1.6" />
<rect x="360.15" y="731.14" width="11.50" height="14.45" fill="#6aab41" stroke="#0002" stroke-width="0.6"/>
<line x1="365.90" y1="729.37" x2="365.90" y2="731.14" stroke="#111" stroke-width="1.15" />
<line x1="363.70" y1="729.37" x2="368.10" y2="729.37" stroke="#000" stroke-width="1.6" />
<rect x="378.05" y="744.91" width="11.50" height="0.68" fill="#2d4b85" stroke="#0002" stroke-width="0.6"/>
<line x1="383.80" y1="742.05" x2="383.80" y2="744.91" stroke="#111" stroke-width="1.15" />
<line x1="381.60" y1="742.05" x2="386.00" y2="742.05" stroke="#000" stroke-width="1.6" />
<rect x="395.95" y="738.23" width="11.50" height="7.36" fill="#6aab41" stroke="#0002" stroke-width="0.6"/>
<line x1="401.70" y1="737.55" x2="401.70" y2="738.23" stroke="#111" stroke-width="1.15" />
<line x1="399.50" y1="737.55" x2="403.90" y2="737.55" stroke="#000" stroke-width="1.6" />
<rect x="413.85" y="742.18" width="11.50" height="3.41" fill="#4f2264" stroke="#0002" stroke-width="0.6"/>
<line x1="419.60" y1="739.87" x2="419.60" y2="742.18" stroke="#111" stroke-width="1.15" />
<line x1="417.40" y1="739.87" x2="421.80" y2="739.87" stroke="#000" stroke-width="1.6" />
<rect x="431.75" y="740.96" width="11.50" height="4.63" fill="#6aab41" stroke="#0002" stroke-width="0.6"/>
<line x1="437.50" y1="740.27" x2="437.50" y2="740.96" stroke="#111" stroke-width="1.15" />
<line x1="435.30" y1="740.27" x2="439.70" y2="740.27" stroke="#000" stroke-width="1.6" />
<rect x="449.65" y="736.05" width="11.50" height="9.54" fill="#6aab41" stroke="#0002" stroke-width="0.6"/>
<line x1="455.40" y1="734.00" x2="455.40" y2="736.05" stroke="#111" stroke-width="1.15" />
<line x1="453.20" y1="734.00" x2="457.60" y2="734.00" stroke="#000" stroke-width="1.6" />
<rect x="467.55" y="743.68" width="11.50" height="1.91" fill="#6aab41" stroke="#0002" stroke-width="0.6"/>
<line x1="473.30" y1="742.59" x2="473.30" y2="743.68" stroke="#111" stroke-width="1.15" />
<line x1="471.10" y1="742.59" x2="475.50" y2="742.59" stroke="#000" stroke-width="1.6" />
<rect x="485.45" y="731.14" width="11.50" height="14.45" fill="#e6901c" stroke="#0002" stroke-width="0.6"/>
<line x1="491.20" y1="728.69" x2="491.20" y2="731.14" stroke="#111" stroke-width="1.15" />
<line x1="489.00" y1="728.69" x2="493.40" y2="728.69" stroke="#000" stroke-width="1.6" />
<line x1="336.20" y1="673.09" x2="336.20" y2="746.44" stroke="#000" stroke-width="1.7" />
<line x1="335.35" y1="745.59" x2="502.60" y2="745.59" stroke="#000" stroke-width="1.7" />
<line x1="348.00" y1="745.60" x2="348.00" y2="749.60" stroke="#111" stroke-width="1.1" />
<text transform="translate(351.30,757.80) rotate(-45) scale(0.95,1)" x="0" y="0" font-size="8.8" text-anchor="end" fill="#111" stroke="#111" stroke-width="0.16">Granzyme B</text>
<line x1="365.90" y1="745.60" x2="365.90" y2="749.60" stroke="#111" stroke-width="1.1" />
<text transform="translate(369.20,757.80) rotate(-45) scale(0.95,1)" x="0" y="0" font-size="8.8" text-anchor="end" fill="#111" stroke="#111" stroke-width="0.16">IFN-γ</text>
<line x1="383.80" y1="745.60" x2="383.80" y2="749.60" stroke="#111" stroke-width="1.1" />
<text transform="translate(387.10,757.80) rotate(-45) scale(0.95,1)" x="0" y="0" font-size="8.8" text-anchor="end" fill="#111" stroke="#111" stroke-width="0.16">IL-9</text>
<line x1="401.70" y1="745.60" x2="401.70" y2="749.60" stroke="#111" stroke-width="1.1" />
<text transform="translate(405.00,757.80) rotate(-45) scale(0.95,1)" x="0" y="0" font-size="8.8" text-anchor="end" fill="#111" stroke="#111" stroke-width="0.16">MIP-1α</text>
<line x1="419.60" y1="745.60" x2="419.60" y2="749.60" stroke="#111" stroke-width="1.1" />
<text transform="translate(422.90,757.80) rotate(-45) scale(0.95,1)" x="0" y="0" font-size="8.8" text-anchor="end" fill="#111" stroke="#111" stroke-width="0.16">MIP-1β</text>
<line x1="437.50" y1="745.60" x2="437.50" y2="749.60" stroke="#111" stroke-width="1.1" />
<text transform="translate(440.80,757.80) rotate(-45) scale(0.95,1)" x="0" y="0" font-size="8.8" text-anchor="end" fill="#111" stroke="#111" stroke-width="0.16">Perforin</text>
<line x1="455.40" y1="745.60" x2="455.40" y2="749.60" stroke="#111" stroke-width="1.1" />
<text transform="translate(458.70,757.80) rotate(-45) scale(0.95,1)" x="0" y="0" font-size="8.8" text-anchor="end" fill="#111" stroke="#111" stroke-width="0.16">TNF-α</text>
<line x1="473.30" y1="745.60" x2="473.30" y2="749.60" stroke="#111" stroke-width="1.1" />
<text transform="translate(476.60,757.80) rotate(-45) scale(0.95,1)" x="0" y="0" font-size="8.8" text-anchor="end" fill="#111" stroke="#111" stroke-width="0.16">TNF-β</text>
<line x1="491.20" y1="745.60" x2="491.20" y2="749.60" stroke="#111" stroke-width="1.1" />
<text transform="translate(494.50,757.80) rotate(-45) scale(0.95,1)" x="0" y="0" font-size="8.8" text-anchor="end" fill="#111" stroke="#111" stroke-width="0.16">sCD137</text>
<text transform="translate(307.60,194.60) rotate(-90) scale(0.709,1)" x="0" y="3.37" font-size="9.8" text-anchor="middle" fill="#111" stroke="#111" stroke-width="0.3">CD4<tspan font-size="6" dy="-3">+</tspan><tspan dy="3">% secretion frequency</tspan></text>
<text transform="translate(307.90,581.80) rotate(-90) scale(0.709,1)" x="0" y="3.37" font-size="9.8" text-anchor="middle" fill="#111" stroke="#111" stroke-width="0.3">CD8<tspan font-size="6" dy="-3">+</tspan><tspan dy="3">% secretion frequency</tspan></text>
<rect x="342.60" y="799.60" width="12.80" height="8.30" fill="#6aab41" stroke="#0003" stroke-width="0.8"/>
<text x="359.80" y="807.10" font-size="8.3" text-anchor="start" font-weight="normal" fill="#111" stroke="#111" stroke-width="0.1" >Effector</text>
<rect x="342.60" y="813.30" width="12.80" height="8.30" fill="#2d4b85" stroke="#0003" stroke-width="0.8"/>
<text x="359.80" y="820.80" font-size="8.3" text-anchor="start" font-weight="normal" fill="#111" stroke="#111" stroke-width="0.1" >Stimulatory</text>
<rect x="342.60" y="827.00" width="12.80" height="8.30" fill="#4f2264" stroke="#0003" stroke-width="0.8"/>
<text x="359.80" y="834.50" font-size="8.3" text-anchor="start" font-weight="normal" fill="#111" stroke="#111" stroke-width="0.1" >Chemoattractive</text>
<rect x="432.60" y="799.60" width="12.80" height="8.30" fill="#e6901c" stroke="#0003" stroke-width="0.8"/>
<text x="449.80" y="807.10" font-size="8.3" text-anchor="start" font-weight="normal" fill="#111" stroke="#111" stroke-width="0.1" >Regulatory</text>
<rect x="432.60" y="813.30" width="12.80" height="8.30" fill="#a8002e" stroke="#0003" stroke-width="0.8"/>
<text x="449.80" y="820.80" font-size="8.3" text-anchor="start" font-weight="normal" fill="#111" stroke="#111" stroke-width="0.1" >Inflammatory</text>
</svg>
</body></html>
